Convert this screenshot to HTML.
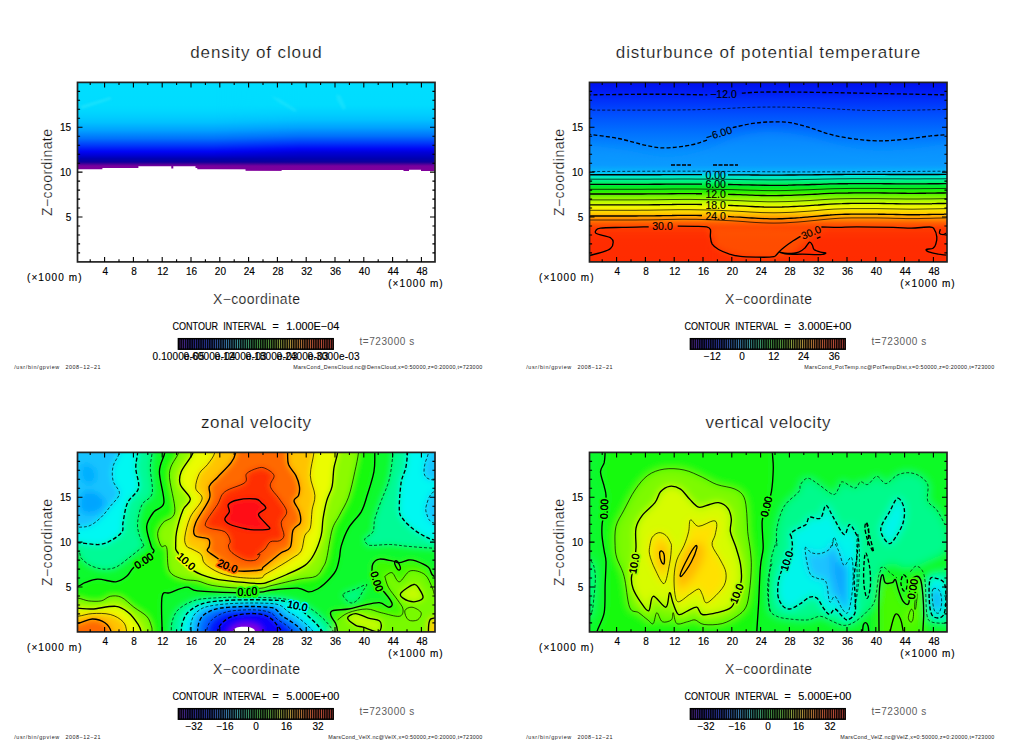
<!DOCTYPE html>
<html lang="en"><head><meta charset="utf-8"><title>gpview</title>
<style>html,body{margin:0;padding:0;background:#fff}body{width:1024px;height:740px;overflow:hidden}svg{display:block;font-family:'Liberation Sans', sans-serif}.tk{stroke:#000;stroke-width:.14px}.th{stroke:#fff;stroke-width:.2px}</style></head><body>
<svg width="1024" height="740" viewBox="0 0 1024 740">
<defs>
<linearGradient id="cbar" x1="0" x2="1" y1="0" y2="0"><stop offset="0" stop-color="#5a2a8c"/><stop offset=".08" stop-color="#2a2488"/><stop offset=".2" stop-color="#2a3ca0"/><stop offset=".3" stop-color="#3c78b4"/><stop offset=".4" stop-color="#3c9a96"/><stop offset=".5" stop-color="#3f9a4a"/><stop offset=".6" stop-color="#5a9a3c"/><stop offset=".68" stop-color="#a0a040"/><stop offset=".76" stop-color="#c08a3c"/><stop offset=".86" stop-color="#c05a38"/><stop offset="1" stop-color="#b84038"/></linearGradient>
<pattern id="cstripe" x="178.2" y="0" width="2.21" height="20" patternUnits="userSpaceOnUse"><rect x="0" y="0" width="1.45" height="20" fill="#000" fill-opacity=".9"/></pattern>
<clipPath id="pc"><rect x="77.5" y="82.4" width="357.5" height="179.5"/></clipPath>
<filter id="b1" x="-10%" y="-10%" width="120%" height="120%"><feGaussianBlur stdDeviation="1.2"/></filter>
<filter id="b2" x="-10%" y="-10%" width="120%" height="120%"><feGaussianBlur stdDeviation="3.2"/></filter>
<filter id="b4" x="-10%" y="-10%" width="120%" height="120%"><feGaussianBlur stdDeviation="4.2"/></filter>
<filter id="b3" x="-10%" y="-10%" width="120%" height="120%"><feGaussianBlur stdDeviation="4"/></filter>
</defs>
<g transform="translate(0,0)">
<g clip-path="url(#pc)">
<defs><linearGradient id="g0" gradientUnits="userSpaceOnUse" x1="0" x2="0" y1="82.4" y2="171.5"><stop offset="0.0000" stop-color="#00deff"/><stop offset="0.2536" stop-color="#00dcff"/><stop offset="0.3210" stop-color="#00d7ff"/><stop offset="0.3883" stop-color="#00cdff"/><stop offset="0.4489" stop-color="#00c1ff"/><stop offset="0.5398" stop-color="#00a0ff"/><stop offset="0.6319" stop-color="#0070fc"/><stop offset="0.7093" stop-color="#0037fa"/><stop offset="0.7744" stop-color="#0005f5"/><stop offset="0.8148" stop-color="#0000d7"/><stop offset="0.8575" stop-color="#0000af"/><stop offset="0.8934" stop-color="#0f009b"/><stop offset="0.9158" stop-color="#460098"/><stop offset="0.9383" stop-color="#78009e"/><stop offset="1.0000" stop-color="#82009b"/></linearGradient><linearGradient id="g0b" gradientUnits="userSpaceOnUse" x1="0" x2="0" y1="82.4" y2="171.5"><stop offset="0.0000" stop-color="#00deff"/><stop offset="0.2536" stop-color="#00dcff"/><stop offset="0.2929" stop-color="#00d7ff"/><stop offset="0.3603" stop-color="#00cdff"/><stop offset="0.4209" stop-color="#00c1ff"/><stop offset="0.5118" stop-color="#00a0ff"/><stop offset="0.6038" stop-color="#0070fc"/><stop offset="0.6813" stop-color="#0037fa"/><stop offset="0.7464" stop-color="#0005f5"/><stop offset="0.7868" stop-color="#0000d7"/><stop offset="0.8575" stop-color="#0000af"/><stop offset="0.8934" stop-color="#0f009b"/><stop offset="0.9158" stop-color="#460098"/><stop offset="0.9383" stop-color="#78009e"/><stop offset="1.0000" stop-color="#82009b"/></linearGradient><linearGradient id="g0m" gradientUnits="userSpaceOnUse" x1="215" x2="300" y1="0" y2="0"><stop offset="0" stop-color="#000"/><stop offset="1" stop-color="#fff"/></linearGradient><mask id="m0" maskUnits="userSpaceOnUse" x="60" y="60" width="400" height="220"><rect x="60" y="60" width="400" height="220" fill="url(#g0m)"/></mask></defs><path d="M440 70L70 70L70 169.3L102.4 169.3L102.4 168.1L138.4 168.1L138.4 166.2L171.3 166.2L171.3 168.4L173.3 168.4L173.3 166.2L195.5 166.2L195.5 168L197.3 168L197.3 169.3L245.6 169.3L245.6 170.7L281.5 170.7L281.5 169.9L403.7 169.9L403.7 171L409 171L409 169.5L421 169.5L421 171L440 171Z" fill="url(#g0)"/><path d="M440 70L70 70L70 169.3L102.4 169.3L102.4 168.1L138.4 168.1L138.4 166.2L171.3 166.2L171.3 168.4L173.3 168.4L173.3 166.2L195.5 166.2L195.5 168L197.3 168L197.3 169.3L245.6 169.3L245.6 170.7L281.5 170.7L281.5 169.9L403.7 169.9L403.7 171L409 171L409 169.5L421 169.5L421 171L440 171Z" fill="url(#g0b)" mask="url(#m0)"/><path d="M80 106 L110 97 L112 99 L82 109Z" fill="#30e6fa" opacity=".5" filter="url(#b1)"/><path d="M271 96 L280 99 L297 110 L295 112 L278 102Z" fill="#30e6fa" opacity=".4" filter="url(#b1)"/><path d="M336 94 L341 96 L346 108 L343 110 L337 100Z" fill="#30e6fa" opacity=".4" filter="url(#b1)"/>
</g>
<rect x="77.5" y="82.4" width="357.5" height="179.5" fill="none" stroke="#222" stroke-width="1.7"/>
<path d="M90.2 82.4v2.6M90.2 261.9v-2.6M104.6 82.4v5M104.6 261.9v-5M119 82.4v2.6M119 261.9v-2.6M133.4 82.4v5M133.4 261.9v-5M147.8 82.4v2.6M147.8 261.9v-2.6M162.2 82.4v5M162.2 261.9v-5M176.6 82.4v2.6M176.6 261.9v-2.6M191 82.4v5M191 261.9v-5M205.4 82.4v2.6M205.4 261.9v-2.6M219.8 82.4v5M219.8 261.9v-5M234.2 82.4v2.6M234.2 261.9v-2.6M248.6 82.4v5M248.6 261.9v-5M263 82.4v2.6M263 261.9v-2.6M277.4 82.4v5M277.4 261.9v-5M291.8 82.4v2.6M291.8 261.9v-2.6M306.2 82.4v5M306.2 261.9v-5M320.6 82.4v2.6M320.6 261.9v-2.6M335 82.4v5M335 261.9v-5M349.4 82.4v2.6M349.4 261.9v-2.6M363.8 82.4v5M363.8 261.9v-5M378.2 82.4v2.6M378.2 261.9v-2.6M392.6 82.4v5M392.6 261.9v-5M407 82.4v2.6M407 261.9v-2.6M421.4 82.4v5M421.4 261.9v-5M77.5 252.9h2.6M435 252.9h-2.6M77.5 243.9h2.6M435 243.9h-2.6M77.5 235h2.6M435 235h-2.6M77.5 226h2.6M435 226h-2.6M77.5 217h5M435 217h-5M77.5 208h2.6M435 208h-2.6M77.5 199.1h2.6M435 199.1h-2.6M77.5 190.1h2.6M435 190.1h-2.6M77.5 181.1h2.6M435 181.1h-2.6M77.5 172.1h5M435 172.1h-5M77.5 163.2h2.6M435 163.2h-2.6M77.5 154.2h2.6M435 154.2h-2.6M77.5 145.2h2.6M435 145.2h-2.6M77.5 136.2h2.6M435 136.2h-2.6M77.5 127.3h5M435 127.3h-5M77.5 118.3h2.6M435 118.3h-2.6M77.5 109.3h2.6M435 109.3h-2.6M77.5 100.3h2.6M435 100.3h-2.6M77.5 91.4h2.6M435 91.4h-2.6" stroke="#000" stroke-width="1.1" fill="none"/>
<text x="256" y="58.2" font-size="17" text-anchor="middle" textLength="131.5" fill="#111" class="th">density of cloud</text>
<text x="71.2" y="220.6" font-size="10" text-anchor="end" class="tk">5</text>
<text x="71.2" y="175.7" font-size="10" text-anchor="end" class="tk">10</text>
<text x="71.2" y="130.9" font-size="10" text-anchor="end" class="tk">15</text>
<text x="105.2" y="274.6" font-size="10" text-anchor="middle" class="tk">4</text>
<text x="134" y="274.6" font-size="10" text-anchor="middle" class="tk">8</text>
<text x="162.8" y="274.6" font-size="10" text-anchor="middle" class="tk">12</text>
<text x="191.6" y="274.6" font-size="10" text-anchor="middle" class="tk">16</text>
<text x="220.4" y="274.6" font-size="10" text-anchor="middle" class="tk">20</text>
<text x="249.2" y="274.6" font-size="10" text-anchor="middle" class="tk">24</text>
<text x="278" y="274.6" font-size="10" text-anchor="middle" class="tk">28</text>
<text x="306.8" y="274.6" font-size="10" text-anchor="middle" class="tk">32</text>
<text x="335.6" y="274.6" font-size="10" text-anchor="middle" class="tk">36</text>
<text x="364.4" y="274.6" font-size="10" text-anchor="middle" class="tk">40</text>
<text x="393.2" y="274.6" font-size="10" text-anchor="middle" class="tk">44</text>
<text x="422" y="274.6" font-size="10" text-anchor="middle" class="tk">48</text>
<text x="27" y="280.9" font-size="10" textLength="54.5" class="tk">(×1000 m)</text>
<text x="388.2" y="287.2" font-size="10" textLength="54.5" class="tk">(×1000 m)</text>
<text x="213" y="303.8" font-size="14" textLength="87" fill="#111" class="th">X−coordinate</text>
<g transform="translate(52.2,172.5) rotate(-90)">
<text x="0" y="0" font-size="14" text-anchor="middle" textLength="87" fill="#111" class="th">Z−coordinate</text>
</g>
<text x="172.5" y="330" font-size="11" textLength="45.5" class="tk" lengthAdjust="spacingAndGlyphs">CONTOUR</text>
<text x="223.3" y="330" font-size="11" textLength="43" class="tk" lengthAdjust="spacingAndGlyphs">INTERVAL</text>
<text x="272.5" y="330" font-size="11" textLength="6.2" class="tk" lengthAdjust="spacingAndGlyphs">=</text>
<text x="286.3" y="330" font-size="11" textLength="53" class="tk" lengthAdjust="spacingAndGlyphs">1.000E−04</text>
<text x="359.5" y="344.6" font-size="10" textLength="54.7" fill="#606060">t=723000 s</text>
<rect x="178.2" y="338.6" width="155" height="10.6" fill="url(#cbar)"/>
<rect x="178.2" y="338.6" width="155" height="10.6" fill="url(#cstripe)"/>
<rect x="178.4" y="338.7" width="154.8" height="10.5" fill="none" stroke="#000" stroke-width="1.5"/>
<text x="14.2" y="369" font-size="5.4" textLength="45" fill="#222">/usr/bin/gpview</text>
<text x="65.5" y="369" font-size="5.4" textLength="35" fill="#222">2008−12−21</text>
<text x="482.2" y="369" font-size="5.4" text-anchor="end" textLength="189" fill="#222">MarsCond_DensCloud.nc@DensCloud,x=0:50000,z=0:20000,t=723000</text>
<text x="152.5" y="360.2" font-size="10" textLength="52" class="tk">0.1000e-05</text>
<text x="183.5" y="360.2" font-size="10" textLength="52" class="tk">0.6000e-04</text>
<text x="214.5" y="360.2" font-size="10" textLength="52" class="tk">0.1200e-03</text>
<text x="245.5" y="360.2" font-size="10" textLength="52" class="tk">0.1800e-03</text>
<text x="276.5" y="360.2" font-size="10" textLength="52" class="tk">0.2400e-03</text>
<text x="307.5" y="360.2" font-size="10" textLength="52" class="tk">0.3000e-03</text>
</g>
<g transform="translate(512,0)">
<g clip-path="url(#pc)">
<defs><linearGradient id="g1" gradientUnits="userSpaceOnUse" x1="0" x2="0" y1="82.4" y2="261.9"><stop offset="0.0000" stop-color="#000fee"/><stop offset="0.0535" stop-color="#001ef5"/><stop offset="0.0981" stop-color="#0030fa"/><stop offset="0.1816" stop-color="#0050fe"/><stop offset="0.2652" stop-color="#006cff"/><stop offset="0.3766" stop-color="#058cff"/><stop offset="0.4602" stop-color="#089eff"/><stop offset="0.4981" stop-color="#00c8fa"/><stop offset="0.5142" stop-color="#00e6e1"/><stop offset="0.5270" stop-color="#00f5c3"/><stop offset="0.5532" stop-color="#00f078"/><stop offset="0.5816" stop-color="#00eb28"/><stop offset="0.6084" stop-color="#28f000"/><stop offset="0.6384" stop-color="#7df500"/><stop offset="0.6685" stop-color="#c3fa00"/><stop offset="0.6975" stop-color="#f5f700"/><stop offset="0.7276" stop-color="#ffcd00"/><stop offset="0.7554" stop-color="#ff9600"/><stop offset="0.7833" stop-color="#ff5f00"/><stop offset="0.8111" stop-color="#ff3c00"/><stop offset="0.8780" stop-color="#ff3000"/><stop offset="1.0006" stop-color="#ff2d00"/></linearGradient></defs><rect x="70" y="75" width="372" height="195" fill="url(#g1)"/><path d="M199.3 227.7C190 229.4 199 234.1 199.3 236.8C199.6 239.5 199.8 241.9 201.2 244.1C202.5 246.2 204.5 247.8 207.5 249.5C210.5 251.2 214.3 252.8 219.3 254.1C224.3 255.3 230.5 256.5 237.5 257.1C244.5 257.8 254.1 258.4 261.1 257.9C268.1 257.4 274.1 256.4 279.3 254.1C284.4 251.8 288 247.2 292 244.1C295.9 240.9 299.9 237.4 302.9 235C305.9 232.6 318 230.9 310.1 229.5C302.3 228.2 274.1 227.3 255.7 227C237.2 226.7 208.7 226.1 199.3 227.7Z" fill="#ff6a00" opacity=".5" filter="url(#b2)"/><rect x="70" y="232" width="130" height="40" fill="#ff2a00" opacity=".45" filter="url(#b2)"/><rect x="300" y="232" width="140" height="40" fill="#ff2a00" opacity=".35" filter="url(#b2)"/><path d="M59.1 145C67 141.3 90.6 146.7 106.3 148.6C122.1 150.6 139.6 156.3 153.5 156.6C167.5 156.9 177.8 153.9 189.9 150.5C202 147 214.7 139.1 226.2 135.9C237.7 132.7 247.4 131.2 258.9 131.2C270.4 131.2 283.1 133.5 295.2 135.9C307.3 138.4 319.4 143.3 331.5 145.7C343.6 148.2 355.7 150.1 367.9 150.5C380 150.8 390.9 149 404.2 147.9C417.5 146.9 440.5 140.4 447.8 144.3C455 148.2 512.5 166.7 447.8 171.2C383 175.6 123.9 175.5 59.1 171.2C-5.7 166.8 51.2 148.8 59.1 145Z" fill="#0896ff" opacity=".5" filter="url(#b3)"/><path d="M75.4 94.9C86.6 94.8 122.7 94.2 142.6 94.2C162.6 94.2 186.5 94.8 195.3 94.9" fill="none" stroke="#000" stroke-width="1.35" stroke-dasharray="4 2.2"/><path d="M229.8 93.1C234.7 92.9 243.1 92 258.9 92C274.6 91.9 294.9 92.2 324.3 92.7C353.6 93.2 416.6 94.5 435.1 94.9" fill="none" stroke="#000" stroke-width="1.35" stroke-dasharray="4 2.2"/><path d="M75.4 110.1C92.7 110.1 150.8 110.3 179 109.8C207.1 109.3 225 107.6 244.4 107.2C263.7 106.9 275.8 107.1 295.2 107.6C314.6 108.1 337.3 110.2 360.6 110.5C383.9 110.8 422.6 109.6 435.1 109.4" fill="none" stroke="#000" stroke-width="0.7" stroke-dasharray="3 2"/><path d="M75.4 134.1C80.6 134.8 96.3 136.5 106.3 138.5C116.3 140.4 127.5 144.2 135.4 145.7C143.3 147.3 146.3 148 153.5 147.9C160.8 147.8 172 146.3 179 145C185.9 143.7 192.6 140.8 195.3 139.9" fill="none" stroke="#000" stroke-width="1.35" stroke-dasharray="4 2.2"/><path d="M220.7 127.6C224.7 126.8 235.6 123.8 244.4 122.9C253.1 121.9 264.9 121.5 273.4 122.1C281.9 122.8 286.7 124.6 295.2 126.9C303.7 129.2 313.4 133.6 324.3 135.9C335.2 138.2 349.7 140.1 360.6 140.7C371.5 141.3 380 140.4 389.7 139.6C399.3 138.8 411.1 136.7 418.7 135.9C426.3 135.1 432.3 135 435.1 134.8" fill="none" stroke="#000" stroke-width="1.35" stroke-dasharray="4 2.2"/><path d="M75.4 171.5C92.7 171.5 143.6 171.1 179 171.2C214.4 171.2 245.3 171.9 287.9 171.9C330.6 171.9 410.5 171.3 435.1 171.2" fill="none" stroke="#000" stroke-width="0.7" stroke-dasharray="3 2"/><path d="M159 165h20M201 165h25" fill="none" stroke="#000" stroke-width="1.6" stroke-dasharray="4 1.5"/><path d="M70 174.7C71 174.7 74 174.7 76 174.7C78 174.7 80 174.7 82 174.7C84 174.7 86 174.7 88 174.7C90 174.7 92 174.7 94 174.7C96 174.7 98 174.7 100 174.7C102 174.7 104 174.7 106 174.7C108 174.7 110 174.7 112 174.7C114 174.7 116 174.7 118 174.7C120 174.7 122 174.7 124 174.7C126 174.7 128 174.7 130 174.7C132 174.7 134 174.7 136 174.7C138 174.7 140 174.7 142 174.7C144 174.7 146 174.7 148 174.7C150 174.7 152 174.6 154 174.6C156 174.6 158 174.6 160 174.6C162 174.6 164 174.6 166 174.6C168 174.6 170 174.6 172 174.6C174 174.6 176 174.6 178 174.6C180 174.6 182 174.6 184 174.6C186 174.6 189 174.6 190 174.6" fill="none" stroke="#000" stroke-width="1.35"/><path d="M216 174.8C217 174.8 220 174.8 222 174.8C224 174.8 226 174.9 228 174.9C230 174.9 232 174.9 234 174.9C236 174.9 238 175 240 175C242 175 244 175 246 175C248 175 250 175.1 252 175.1C254 175.1 256 175.1 258 175.1C260 175.1 262 175.1 264 175.1C266 175.1 268 175.1 270 175.1C272 175.1 274 175.1 276 175C278 175 280 175 282 175C284 175 286 175 288 174.9C290 174.9 292 174.9 294 174.9C296 174.8 298 174.8 300 174.8C302 174.8 304 174.7 306 174.7C308 174.7 310 174.7 312 174.6C314 174.6 316 174.6 318 174.6C320 174.5 322 174.5 324 174.5C326 174.5 328 174.5 330 174.5C332 174.5 334 174.4 336 174.4C338 174.4 340 174.4 342 174.4C344 174.4 346 174.4 348 174.4C350 174.4 352 174.4 354 174.4C356 174.4 358 174.4 360 174.4C362 174.4 364 174.4 366 174.4C368 174.4 370 174.4 372 174.4C374 174.5 376 174.5 378 174.5C380 174.5 382 174.5 384 174.5C386 174.5 388 174.5 390 174.5C392 174.5 394 174.5 396 174.5C398 174.5 400 174.5 402 174.5C404 174.5 406 174.5 408 174.5C410 174.5 412 174.5 414 174.5C416 174.5 418 174.5 420 174.5C422 174.5 424 174.5 426 174.5C428 174.4 430 174.4 432 174.4C434 174.4 437 174.4 438 174.4" fill="none" stroke="#000" stroke-width="1.35"/><path d="M70 179.2C71 179.2 74 179.2 76 179.2C78 179.2 80 179.2 82 179.2C84 179.2 86 179.2 88 179.2C90 179.2 92 179.2 94 179.2C96 179.2 98 179.2 100 179.2C102 179.2 104 179.2 106 179.2C108 179.2 110 179.2 112 179.2C114 179.2 116 179.2 118 179.2C120 179.2 122 179.2 124 179.2C126 179.2 128 179.2 130 179.2C132 179.2 134 179.2 136 179.2C138 179.2 140 179.2 142 179.1C144 179.1 146 179.1 148 179.1C150 179.1 152 179.1 154 179.1C156 179.1 158 179.1 160 179.1C162 179.1 164 179 166 179C168 179 170 179 172 179C174 179 176 179 178 179C180 179 182 179 184 179.1C186 179.1 188 179.1 190 179.1C192 179.1 194 179.1 196 179.1C198 179.1 200 179.2 202 179.2C204 179.2 206 179.2 208 179.2C210 179.3 212 179.3 214 179.3C216 179.3 218 179.4 220 179.4C222 179.4 224 179.4 226 179.5C228 179.5 230 179.5 232 179.6C234 179.6 236 179.6 238 179.7C240 179.7 242 179.7 244 179.8C246 179.8 248 179.8 250 179.8C252 179.9 254 179.9 256 179.9C258 179.9 260 179.9 262 179.9C264 179.9 266 179.9 268 179.9C270 179.9 272 179.9 274 179.8C276 179.8 278 179.8 280 179.8C282 179.7 284 179.7 286 179.7C288 179.6 290 179.6 292 179.5C294 179.5 296 179.5 298 179.4C300 179.4 302 179.3 304 179.3C306 179.2 308 179.2 310 179.1C312 179.1 314 179 316 179C318 178.9 320 178.9 322 178.9C324 178.8 326 178.8 328 178.8C330 178.8 332 178.8 334 178.8C336 178.7 338 178.7 340 178.7C342 178.7 344 178.7 346 178.7C348 178.7 350 178.7 352 178.7C354 178.7 356 178.7 358 178.7C360 178.7 362 178.7 364 178.7C366 178.7 368 178.7 370 178.8C372 178.8 374 178.8 376 178.8C378 178.8 380 178.8 382 178.8C384 178.8 386 178.8 388 178.8C390 178.9 392 178.9 394 178.9C396 178.9 398 178.9 400 178.9C402 178.9 404 178.9 406 178.9C408 178.9 410 178.9 412 178.8C414 178.8 416 178.8 418 178.8C420 178.8 422 178.8 424 178.8C426 178.8 428 178.8 430 178.8C432 178.7 434 178.7 436 178.7C438 178.7 441 178.7 442 178.7" fill="none" stroke="#000" stroke-width="0.7"/><path d="M70 184.3C71 184.3 74 184.3 76 184.3C78 184.3 80 184.3 82 184.3C84 184.3 86 184.3 88 184.3C90 184.3 92 184.3 94 184.3C96 184.3 98 184.3 100 184.3C102 184.3 104 184.3 106 184.3C108 184.3 110 184.3 112 184.3C114 184.3 116 184.3 118 184.3C120 184.3 122 184.3 124 184.3C126 184.3 128 184.3 130 184.3C132 184.3 134 184.3 136 184.3C138 184.2 140 184.2 142 184.2C144 184.2 146 184.2 148 184.2C150 184.2 152 184.2 154 184.1C156 184.1 158 184.1 160 184.1C162 184.1 164 184.1 166 184.1C168 184.1 170 184.1 172 184.1C174 184.1 176 184.1 178 184.1C180 184.1 182 184.1 184 184.1C186 184.1 189 184.1 190 184.1" fill="none" stroke="#000" stroke-width="1.35"/><path d="M216 184.5C217 184.5 220 184.6 222 184.6C224 184.6 226 184.7 228 184.7C230 184.8 232 184.8 234 184.9C236 184.9 238 185 240 185C242 185.1 244 185.1 246 185.1C248 185.2 250 185.2 252 185.2C254 185.3 256 185.3 258 185.3C260 185.3 262 185.3 264 185.3C266 185.3 268 185.3 270 185.3C272 185.2 274 185.2 276 185.2C278 185.1 280 185.1 282 185C284 185 286 184.9 288 184.9C290 184.8 292 184.8 294 184.7C296 184.7 298 184.6 300 184.5C302 184.5 304 184.4 306 184.3C308 184.3 310 184.2 312 184.1C314 184.1 316 184 318 183.9C320 183.9 322 183.8 324 183.8C326 183.8 328 183.7 330 183.7C332 183.7 334 183.7 336 183.7C338 183.6 340 183.6 342 183.6C344 183.6 346 183.6 348 183.6C350 183.6 352 183.6 354 183.6C356 183.6 358 183.6 360 183.6C362 183.6 364 183.6 366 183.6C368 183.6 370 183.7 372 183.7C374 183.7 376 183.7 378 183.7C380 183.7 382 183.7 384 183.8C386 183.8 388 183.8 390 183.8C392 183.8 394 183.8 396 183.8C398 183.8 400 183.9 402 183.8C404 183.8 406 183.8 408 183.8C410 183.8 412 183.8 414 183.8C416 183.8 418 183.7 420 183.7C422 183.7 424 183.7 426 183.7C428 183.7 430 183.7 432 183.6C434 183.6 437 183.6 438 183.6" fill="none" stroke="#000" stroke-width="1.35"/><path d="M70 189.3C71 189.3 74 189.3 76 189.3C78 189.3 80 189.3 82 189.3C84 189.3 86 189.3 88 189.3C90 189.3 92 189.3 94 189.3C96 189.3 98 189.3 100 189.3C102 189.3 104 189.3 106 189.3C108 189.3 110 189.3 112 189.3C114 189.3 116 189.3 118 189.3C120 189.3 122 189.3 124 189.3C126 189.3 128 189.3 130 189.3C132 189.3 134 189.3 136 189.2C138 189.2 140 189.2 142 189.2C144 189.2 146 189.2 148 189.2C150 189.1 152 189.1 154 189.1C156 189.1 158 189.1 160 189C162 189 164 189 166 189C168 189 170 189 172 189C174 189 176 189 178 189C180 189 182 189 184 189C186 189 188 189.1 190 189.1C192 189.1 194 189.1 196 189.2C198 189.2 200 189.2 202 189.3C204 189.3 206 189.3 208 189.4C210 189.4 212 189.5 214 189.5C216 189.5 218 189.6 220 189.6C222 189.7 224 189.8 226 189.8C228 189.9 230 189.9 232 190C234 190 236 190.1 238 190.2C240 190.2 242 190.3 244 190.3C246 190.4 248 190.4 250 190.5C252 190.5 254 190.5 256 190.6C258 190.6 260 190.6 262 190.6C264 190.6 266 190.6 268 190.6C270 190.5 272 190.5 274 190.5C276 190.4 278 190.4 280 190.3C282 190.3 284 190.2 286 190.1C288 190.1 290 190 292 189.9C294 189.9 296 189.8 298 189.7C300 189.6 302 189.5 304 189.4C306 189.4 308 189.3 310 189.2C312 189.1 314 189 316 188.9C318 188.8 320 188.8 322 188.7C324 188.6 326 188.6 328 188.6C330 188.5 332 188.5 334 188.5C336 188.5 338 188.4 340 188.4C342 188.4 344 188.4 346 188.4C348 188.4 350 188.4 352 188.4C354 188.4 356 188.4 358 188.4C360 188.4 362 188.4 364 188.4C366 188.4 368 188.5 370 188.5C372 188.5 374 188.5 376 188.5C378 188.5 380 188.6 382 188.6C384 188.6 386 188.6 388 188.6C390 188.7 392 188.7 394 188.7C396 188.7 398 188.7 400 188.7C402 188.7 404 188.7 406 188.7C408 188.7 410 188.7 412 188.6C414 188.6 416 188.6 418 188.6C420 188.6 422 188.5 424 188.5C426 188.5 428 188.5 430 188.5C432 188.5 434 188.4 436 188.4C438 188.4 441 188.4 442 188.4" fill="none" stroke="#000" stroke-width="0.7"/><path d="M70 194C71 194 74 194 76 194C78 194 80 194 82 194C84 194 86 194 88 194C90 194 92 194 94 194C96 194 98 194 100 194C102 194 104 194 106 194C108 194 110 194 112 194C114 194 116 194 118 194C120 194 122 194 124 194C126 194 128 194 130 194C132 193.9 134 193.9 136 193.9C138 193.9 140 193.9 142 193.9C144 193.9 146 193.8 148 193.8C150 193.8 152 193.8 154 193.8C156 193.7 158 193.7 160 193.7C162 193.7 164 193.7 166 193.6C168 193.6 170 193.6 172 193.6C174 193.6 176 193.6 178 193.6C180 193.6 182 193.6 184 193.7C186 193.7 189 193.7 190 193.7" fill="none" stroke="#000" stroke-width="1.35"/><path d="M216 194.3C217 194.3 220 194.4 222 194.5C224 194.6 226 194.6 228 194.7C230 194.8 232 194.8 234 194.9C236 195 238 195.1 240 195.1C242 195.2 244 195.3 246 195.3C248 195.4 250 195.5 252 195.5C254 195.5 256 195.6 258 195.6C260 195.6 262 195.6 264 195.6C266 195.6 268 195.6 270 195.5C272 195.5 274 195.4 276 195.4C278 195.3 280 195.3 282 195.2C284 195.1 286 195 288 194.9C290 194.9 292 194.8 294 194.7C296 194.6 298 194.5 300 194.4C302 194.3 304 194.2 306 194.1C308 193.9 310 193.8 312 193.7C314 193.6 316 193.5 318 193.4C320 193.3 322 193.3 324 193.2C326 193.1 328 193.1 330 193.1C332 193 334 193 336 193C338 192.9 340 192.9 342 192.9C344 192.9 346 192.9 348 192.9C350 192.9 352 192.9 354 192.9C356 192.9 358 192.9 360 192.9C362 192.9 364 192.9 366 192.9C368 193 370 193 372 193C374 193 376 193 378 193.1C380 193.1 382 193.1 384 193.1C386 193.2 388 193.2 390 193.2C392 193.2 394 193.3 396 193.3C398 193.3 400 193.3 402 193.3C404 193.3 406 193.3 408 193.2C410 193.2 412 193.2 414 193.2C416 193.1 418 193.1 420 193.1C422 193.1 424 193 426 193C428 193 430 193 432 193C434 192.9 437 192.9 438 192.9" fill="none" stroke="#000" stroke-width="1.35"/><path d="M70 199.9C71 199.9 74 199.9 76 199.9C78 199.9 80 199.9 82 199.9C84 199.9 86 199.9 88 199.9C90 199.9 92 199.9 94 199.9C96 199.9 98 199.9 100 199.9C102 199.9 104 199.9 106 199.9C108 199.9 110 199.9 112 199.9C114 199.9 116 199.9 118 199.9C120 199.9 122 199.9 124 199.9C126 199.9 128 199.9 130 199.8C132 199.8 134 199.8 136 199.8C138 199.8 140 199.8 142 199.8C144 199.7 146 199.7 148 199.7C150 199.7 152 199.6 154 199.6C156 199.6 158 199.6 160 199.5C162 199.5 164 199.5 166 199.5C168 199.5 170 199.4 172 199.4C174 199.4 176 199.4 178 199.4C180 199.5 182 199.5 184 199.5C186 199.5 188 199.5 190 199.6C192 199.6 194 199.7 196 199.7C198 199.7 200 199.8 202 199.8C204 199.9 206 200 208 200C210 200.1 212 200.1 214 200.2C216 200.3 218 200.3 220 200.4C222 200.5 224 200.6 226 200.6C228 200.7 230 200.8 232 200.9C234 201 236 201.1 238 201.2C240 201.3 242 201.3 244 201.4C246 201.5 248 201.6 250 201.6C252 201.7 254 201.7 256 201.8C258 201.8 260 201.8 262 201.8C264 201.8 266 201.8 268 201.7C270 201.7 272 201.7 274 201.6C276 201.5 278 201.5 280 201.4C282 201.3 284 201.2 286 201.1C288 201 290 200.9 292 200.8C294 200.7 296 200.6 298 200.5C300 200.4 302 200.2 304 200.1C306 200 308 199.8 310 199.7C312 199.6 314 199.4 316 199.3C318 199.2 320 199.1 322 199C324 198.9 326 198.9 328 198.8C330 198.8 332 198.7 334 198.7C336 198.7 338 198.7 340 198.6C342 198.6 344 198.6 346 198.6C348 198.6 350 198.6 352 198.6C354 198.6 356 198.6 358 198.6C360 198.6 362 198.6 364 198.6C366 198.6 368 198.7 370 198.7C372 198.7 374 198.7 376 198.8C378 198.8 380 198.8 382 198.9C384 198.9 386 198.9 388 198.9C390 199 392 199 394 199C396 199 398 199 400 199C402 199 404 199 406 199C408 199 410 199 412 198.9C414 198.9 416 198.9 418 198.9C420 198.8 422 198.8 424 198.8C426 198.7 428 198.7 430 198.7C432 198.7 434 198.6 436 198.6C438 198.6 441 198.6 442 198.6" fill="none" stroke="#000" stroke-width="0.7"/><path d="M70 204.9C71 204.9 74 204.9 76 204.9C78 204.9 80 204.9 82 204.9C84 204.9 86 204.9 88 204.9C90 204.9 92 204.9 94 204.9C96 204.9 98 204.9 100 204.9C102 204.9 104 204.9 106 204.9C108 204.9 110 204.9 112 204.9C114 204.9 116 204.9 118 204.9C120 204.9 122 204.9 124 204.9C126 204.9 128 204.9 130 204.8C132 204.8 134 204.8 136 204.8C138 204.8 140 204.8 142 204.7C144 204.7 146 204.7 148 204.7C150 204.6 152 204.6 154 204.6C156 204.5 158 204.5 160 204.5C162 204.4 164 204.4 166 204.4C168 204.4 170 204.4 172 204.4C174 204.4 176 204.4 178 204.4C180 204.4 182 204.4 184 204.4C186 204.5 189 204.5 190 204.5" fill="none" stroke="#000" stroke-width="1.35"/><path d="M216 205.3C217 205.4 220 205.5 222 205.6C224 205.7 226 205.8 228 205.9C230 206 232 206.1 234 206.2C236 206.3 238 206.4 240 206.5C242 206.6 244 206.7 246 206.7C248 206.8 250 206.9 252 207C254 207 256 207.1 258 207.1C260 207.1 262 207.1 264 207.1C266 207.1 268 207 270 207C272 206.9 274 206.9 276 206.8C278 206.7 280 206.6 282 206.5C284 206.4 286 206.3 288 206.2C290 206.1 292 206 294 205.8C296 205.7 298 205.6 300 205.4C302 205.3 304 205.1 306 205C308 204.8 310 204.7 312 204.5C314 204.4 316 204.2 318 204.1C320 204 322 203.9 324 203.8C326 203.7 328 203.6 330 203.6C332 203.5 334 203.5 336 203.5C338 203.5 340 203.4 342 203.4C344 203.4 346 203.4 348 203.4C350 203.4 352 203.4 354 203.4C356 203.4 358 203.4 360 203.4C362 203.4 364 203.4 366 203.4C368 203.5 370 203.5 372 203.5C374 203.5 376 203.6 378 203.6C380 203.6 382 203.7 384 203.7C386 203.8 388 203.8 390 203.8C392 203.9 394 203.9 396 203.9C398 203.9 400 203.9 402 203.9C404 203.9 406 203.9 408 203.9C410 203.8 412 203.8 414 203.8C416 203.7 418 203.7 420 203.7C422 203.6 424 203.6 426 203.5C428 203.5 430 203.5 432 203.5C434 203.4 437 203.4 438 203.4" fill="none" stroke="#000" stroke-width="1.35"/><path d="M70 210.3C71 210.3 74 210.3 76 210.3C78 210.3 80 210.3 82 210.3C84 210.3 86 210.3 88 210.3C90 210.3 92 210.3 94 210.3C96 210.3 98 210.3 100 210.3C102 210.3 104 210.3 106 210.3C108 210.3 110 210.3 112 210.3C114 210.3 116 210.3 118 210.3C120 210.3 122 210.3 124 210.3C126 210.3 128 210.2 130 210.2C132 210.2 134 210.2 136 210.2C138 210.2 140 210.1 142 210.1C144 210.1 146 210.1 148 210C150 210 152 210 154 209.9C156 209.9 158 209.8 160 209.8C162 209.8 164 209.8 166 209.7C168 209.7 170 209.7 172 209.7C174 209.7 176 209.7 178 209.7C180 209.7 182 209.7 184 209.8C186 209.8 188 209.8 190 209.9C192 209.9 194 210 196 210C198 210.1 200 210.2 202 210.2C204 210.3 206 210.4 208 210.4C210 210.5 212 210.6 214 210.7C216 210.8 218 210.9 220 211C222 211.1 224 211.2 226 211.3C228 211.4 230 211.5 232 211.6C234 211.7 236 211.9 238 212C240 212.1 242 212.2 244 212.3C246 212.4 248 212.5 250 212.6C252 212.6 254 212.7 256 212.7C258 212.8 260 212.8 262 212.8C264 212.8 266 212.8 268 212.7C270 212.7 272 212.6 274 212.5C276 212.5 278 212.4 280 212.3C282 212.2 284 212 286 211.9C288 211.8 290 211.6 292 211.5C294 211.4 296 211.2 298 211.1C300 210.9 302 210.7 304 210.6C306 210.4 308 210.2 310 210C312 209.9 314 209.7 316 209.5C318 209.4 320 209.3 322 209.1C324 209 326 209 328 208.9C330 208.8 332 208.8 334 208.7C336 208.7 338 208.7 340 208.6C342 208.6 344 208.6 346 208.6C348 208.6 350 208.6 352 208.6C354 208.6 356 208.6 358 208.6C360 208.6 362 208.6 364 208.6C366 208.7 368 208.7 370 208.7C372 208.7 374 208.8 376 208.8C378 208.8 380 208.9 382 208.9C384 209 386 209 388 209C390 209.1 392 209.1 394 209.1C396 209.2 398 209.2 400 209.2C402 209.2 404 209.2 406 209.1C408 209.1 410 209.1 412 209C414 209 416 209 418 208.9C420 208.9 422 208.8 424 208.8C426 208.8 428 208.7 430 208.7C432 208.7 434 208.6 436 208.6C438 208.6 441 208.6 442 208.6" fill="none" stroke="#000" stroke-width="0.7"/><path d="M70 216C71 216 74 216 76 216C78 216 80 216 82 216C84 216 86 216 88 216C90 216 92 216 94 216C96 216 98 216 100 216C102 216 104 216 106 216C108 216 110 216 112 216C114 216 116 216 118 216C120 216 122 216 124 216C126 216 128 215.9 130 215.9C132 215.9 134 215.9 136 215.9C138 215.8 140 215.8 142 215.8C144 215.8 146 215.7 148 215.7C150 215.7 152 215.6 154 215.6C156 215.5 158 215.5 160 215.5C162 215.4 164 215.4 166 215.4C168 215.3 170 215.3 172 215.3C174 215.3 176 215.3 178 215.3C180 215.3 182 215.4 184 215.4C186 215.4 189 215.5 190 215.5" fill="none" stroke="#000" stroke-width="1.35"/><path d="M216 216.5C217 216.6 220 216.7 222 216.9C224 217 226 217.1 228 217.2C230 217.4 232 217.5 234 217.6C236 217.7 238 217.9 240 218C242 218.1 244 218.2 246 218.3C248 218.4 250 218.5 252 218.6C254 218.7 256 218.7 258 218.8C260 218.8 262 218.8 264 218.8C266 218.8 268 218.7 270 218.7C272 218.6 274 218.5 276 218.4C278 218.3 280 218.2 282 218.1C284 218 286 217.8 288 217.7C290 217.5 292 217.4 294 217.2C296 217 298 216.9 300 216.7C302 216.5 304 216.3 306 216.1C308 215.9 310 215.7 312 215.5C314 215.3 316 215.1 318 215C320 214.8 322 214.7 324 214.6C326 214.5 328 214.4 330 214.3C332 214.3 334 214.2 336 214.2C338 214.2 340 214.1 342 214.1C344 214.1 346 214.1 348 214.1C350 214.1 352 214.1 354 214.1C356 214.1 358 214.1 360 214.1C362 214.1 364 214.1 366 214.2C368 214.2 370 214.2 372 214.2C374 214.3 376 214.3 378 214.4C380 214.4 382 214.5 384 214.5C386 214.6 388 214.6 390 214.6C392 214.7 394 214.7 396 214.7C398 214.7 400 214.7 402 214.7C404 214.7 406 214.7 408 214.7C410 214.6 412 214.6 414 214.6C416 214.5 418 214.5 420 214.4C422 214.4 424 214.3 426 214.3C428 214.2 430 214.2 432 214.2C434 214.1 437 214.1 438 214.1" fill="none" stroke="#000" stroke-width="1.35"/><path d="M70 220C71 220 74 220 76 220C78 220 80 220 82 220C84 220 86 220 88 220C90 220 92 220 94 220C96 220 98 220 100 220C102 220 104 220 106 220C108 220 110 220 112 220C114 220 116 220 118 220C120 220 122 220 124 220C126 219.9 128 219.9 130 219.9C132 219.9 134 219.9 136 219.9C138 219.8 140 219.8 142 219.8C144 219.7 146 219.7 148 219.7C150 219.6 152 219.6 154 219.5C156 219.5 158 219.4 160 219.4C162 219.4 164 219.3 166 219.3C168 219.3 170 219.3 172 219.2C174 219.2 176 219.2 178 219.3C180 219.3 182 219.3 184 219.3C186 219.4 188 219.4 190 219.5C192 219.5 194 219.6 196 219.7C198 219.7 200 219.8 202 219.9C204 220 206 220.1 208 220.2C210 220.3 212 220.4 214 220.5C216 220.6 218 220.7 220 220.8C222 221 224 221.1 226 221.2C228 221.4 230 221.5 232 221.6C234 221.8 236 221.9 238 222.1C240 222.2 242 222.4 244 222.5C246 222.6 248 222.7 250 222.8C252 222.9 254 223 256 223C258 223.1 260 223.1 262 223.1C264 223.1 266 223.1 268 223C270 223 272 222.9 274 222.8C276 222.7 278 222.6 280 222.4C282 222.3 284 222.2 286 222C288 221.8 290 221.7 292 221.5C294 221.3 296 221.1 298 220.9C300 220.7 302 220.5 304 220.3C306 220.1 308 219.9 310 219.7C312 219.5 314 219.2 316 219.1C318 218.9 320 218.7 322 218.6C324 218.4 326 218.3 328 218.2C330 218.2 332 218.1 334 218C336 218 338 218 340 217.9C342 217.9 344 217.9 346 217.9C348 217.9 350 217.9 352 217.9C354 217.9 356 217.9 358 217.9C360 217.9 362 217.9 364 217.9C366 218 368 218 370 218C372 218.1 374 218.1 376 218.1C378 218.2 380 218.2 382 218.3C384 218.3 386 218.4 388 218.4C390 218.5 392 218.5 394 218.6C396 218.6 398 218.6 400 218.6C402 218.6 404 218.6 406 218.6C408 218.5 410 218.5 412 218.4C414 218.4 416 218.3 418 218.3C420 218.2 422 218.2 424 218.1C426 218.1 428 218 430 218C432 218 434 218 436 217.9C438 217.9 441 217.9 442 217.9" fill="none" stroke="#000" stroke-width="0.7"/><path d="M136.7 226.8C132.3 226.9 118.4 227.1 110.3 227.4C102.3 227.6 92.9 227.6 88.5 228.1C84.1 228.6 84.7 229.6 84 230.4C83.2 231.3 82.9 232.3 84 233.2C85.1 234 87.9 234.6 90.3 235.3C92.8 236.1 96.7 236.6 98.5 237.7C100.3 238.9 101.2 240.4 101.2 242.2C101.2 244.1 100.3 246.9 98.5 248.6C96.7 250.3 94 251.1 90.3 252.2C86.7 253.4 79 255.1 76.7 255.7" fill="none" stroke="#000" stroke-width="1.35"/><path d="M165.7 226.1C168.6 226.1 178.1 226.1 183 226.3C187.8 226.4 192.2 226.3 194.8 226.8C197.4 227.4 197.8 227.9 198.4 229.5C199 231.2 198.1 234.4 198.4 236.8C198.7 239.2 198.9 241.9 200.2 244.1C201.6 246.2 203.7 247.8 206.6 249.5C209.5 251.2 213.9 252.9 217.5 254.1C221.1 255.2 223.9 255.9 228.4 256.4C232.9 256.9 239.9 257 244.8 257.1C249.6 257.3 254.4 257.3 257.5 257.1C260.5 257 262 256.5 262.9 256.4" fill="none" stroke="#000" stroke-width="1.35"/><path d="M263.1 256.4C263.7 255.7 265.2 253.8 266.7 252.2C268.2 250.7 269.7 249.2 272.2 247.3C274.6 245.4 278.5 242.6 281.2 240.8C284 239 287.3 237.2 288.5 236.4" fill="none" stroke="#000" stroke-width="1.35"/><path d="M309.4 227C312.3 227 320.8 227.4 326.7 227.4C332.6 227.3 335.7 226.8 344.8 226.8C353.9 226.8 372.1 227.1 381.2 227.4C390.2 227.6 393.3 228.1 399.3 228.1C405.4 228 413.7 226.9 417.5 227C421.3 227.1 420.8 227.2 422 228.8C423.2 230.4 424.5 234.3 424.8 236.8C425.1 239.3 424.5 242.2 423.8 244.1C423.2 246 422.7 247.3 421.1 248.2C419.5 249.2 414.8 248.8 414.2 249.5C413.6 250.2 415.4 251.5 417.5 252.2C419.5 253 423.7 253.6 426.6 254.1C429.4 254.5 433.4 255 434.7 255.1" fill="none" stroke="#000" stroke-width="1.35"/><path d="M267.6 252.2C267.6 252.1 272.6 253.5 275.8 253.5C279 253.5 283.8 253.2 286.7 252.2C289.6 251.3 291.2 249.4 293.1 247.7C294.9 246 296.4 242.7 297.6 242.2C298.8 241.8 299.6 243.8 300.3 245C301.1 246.2 300.8 248.3 302.1 249.5C303.5 250.7 306.5 251.6 308.5 252.2C310.5 252.8 313.9 252.8 313.9 253.1C313.9 253.5 312.4 254.4 308.5 254.6C304.6 254.8 295.8 254.3 290.3 254.2C284.9 254.2 279.6 254.6 275.8 254.2C272 253.9 267.6 252.4 267.6 252.2Z" fill="none" stroke="#000" stroke-width="1.35"/><path d="M304.9 238.3L308.5 236.8" fill="none" stroke="#000" stroke-width="1.35"/><path d="M428.4 229.2C428.2 229.8 427 232.3 427.5 233.2C427.9 234.1 430 234.6 431.1 234.6C432.2 234.6 433.7 233.4 434.2 233.2" fill="none" stroke="#000" stroke-width="1.35"/><text x="203.6" y="178.6" font-size="10.5" text-anchor="middle" style="stroke:#000;stroke-width:.15px">0.00</text><text x="203.6" y="188.3" font-size="10.5" text-anchor="middle" style="stroke:#000;stroke-width:.15px">6.00</text><text x="203.6" y="198.1" font-size="10.5" text-anchor="middle" style="stroke:#000;stroke-width:.15px">12.0</text><text x="203.6" y="208.9" font-size="10.5" text-anchor="middle" style="stroke:#000;stroke-width:.15px">18.0</text><text x="203.6" y="220.3" font-size="10.5" text-anchor="middle" style="stroke:#000;stroke-width:.15px">24.0</text><text x="211.5" y="97.9" font-size="10.5" text-anchor="middle" style="stroke:#000;stroke-width:.15px">−12.0</text><text x="207" y="137.2" font-size="10.5" text-anchor="middle" transform="rotate(-17 207 133.5)" style="stroke:#000;stroke-width:.15px">−6.00</text><text x="150.5" y="230.1" font-size="10.5" text-anchor="middle" style="stroke:#000;stroke-width:.15px">30.0</text><text x="299" y="236.2" font-size="10.5" text-anchor="middle" transform="rotate(-22 299 232.5)" style="stroke:#000;stroke-width:.15px">30.0</text>
</g>
<rect x="77.5" y="82.4" width="357.5" height="179.5" fill="none" stroke="#222" stroke-width="1.7"/>
<path d="M90.2 82.4v2.6M90.2 261.9v-2.6M104.6 82.4v5M104.6 261.9v-5M119 82.4v2.6M119 261.9v-2.6M133.4 82.4v5M133.4 261.9v-5M147.8 82.4v2.6M147.8 261.9v-2.6M162.2 82.4v5M162.2 261.9v-5M176.6 82.4v2.6M176.6 261.9v-2.6M191 82.4v5M191 261.9v-5M205.4 82.4v2.6M205.4 261.9v-2.6M219.8 82.4v5M219.8 261.9v-5M234.2 82.4v2.6M234.2 261.9v-2.6M248.6 82.4v5M248.6 261.9v-5M263 82.4v2.6M263 261.9v-2.6M277.4 82.4v5M277.4 261.9v-5M291.8 82.4v2.6M291.8 261.9v-2.6M306.2 82.4v5M306.2 261.9v-5M320.6 82.4v2.6M320.6 261.9v-2.6M335 82.4v5M335 261.9v-5M349.4 82.4v2.6M349.4 261.9v-2.6M363.8 82.4v5M363.8 261.9v-5M378.2 82.4v2.6M378.2 261.9v-2.6M392.6 82.4v5M392.6 261.9v-5M407 82.4v2.6M407 261.9v-2.6M421.4 82.4v5M421.4 261.9v-5M77.5 252.9h2.6M435 252.9h-2.6M77.5 243.9h2.6M435 243.9h-2.6M77.5 235h2.6M435 235h-2.6M77.5 226h2.6M435 226h-2.6M77.5 217h5M435 217h-5M77.5 208h2.6M435 208h-2.6M77.5 199.1h2.6M435 199.1h-2.6M77.5 190.1h2.6M435 190.1h-2.6M77.5 181.1h2.6M435 181.1h-2.6M77.5 172.1h5M435 172.1h-5M77.5 163.2h2.6M435 163.2h-2.6M77.5 154.2h2.6M435 154.2h-2.6M77.5 145.2h2.6M435 145.2h-2.6M77.5 136.2h2.6M435 136.2h-2.6M77.5 127.3h5M435 127.3h-5M77.5 118.3h2.6M435 118.3h-2.6M77.5 109.3h2.6M435 109.3h-2.6M77.5 100.3h2.6M435 100.3h-2.6M77.5 91.4h2.6M435 91.4h-2.6" stroke="#000" stroke-width="1.1" fill="none"/>
<text x="256" y="58.2" font-size="17" text-anchor="middle" textLength="304.4" fill="#111" class="th">disturbunce of potential temperature</text>
<text x="71.2" y="220.6" font-size="10" text-anchor="end" class="tk">5</text>
<text x="71.2" y="175.7" font-size="10" text-anchor="end" class="tk">10</text>
<text x="71.2" y="130.9" font-size="10" text-anchor="end" class="tk">15</text>
<text x="105.2" y="274.6" font-size="10" text-anchor="middle" class="tk">4</text>
<text x="134" y="274.6" font-size="10" text-anchor="middle" class="tk">8</text>
<text x="162.8" y="274.6" font-size="10" text-anchor="middle" class="tk">12</text>
<text x="191.6" y="274.6" font-size="10" text-anchor="middle" class="tk">16</text>
<text x="220.4" y="274.6" font-size="10" text-anchor="middle" class="tk">20</text>
<text x="249.2" y="274.6" font-size="10" text-anchor="middle" class="tk">24</text>
<text x="278" y="274.6" font-size="10" text-anchor="middle" class="tk">28</text>
<text x="306.8" y="274.6" font-size="10" text-anchor="middle" class="tk">32</text>
<text x="335.6" y="274.6" font-size="10" text-anchor="middle" class="tk">36</text>
<text x="364.4" y="274.6" font-size="10" text-anchor="middle" class="tk">40</text>
<text x="393.2" y="274.6" font-size="10" text-anchor="middle" class="tk">44</text>
<text x="422" y="274.6" font-size="10" text-anchor="middle" class="tk">48</text>
<text x="27" y="280.9" font-size="10" textLength="54.5" class="tk">(×1000 m)</text>
<text x="388.2" y="287.2" font-size="10" textLength="54.5" class="tk">(×1000 m)</text>
<text x="213" y="303.8" font-size="14" textLength="87" fill="#111" class="th">X−coordinate</text>
<g transform="translate(52.2,172.5) rotate(-90)">
<text x="0" y="0" font-size="14" text-anchor="middle" textLength="87" fill="#111" class="th">Z−coordinate</text>
</g>
<text x="172.5" y="330" font-size="11" textLength="45.5" class="tk" lengthAdjust="spacingAndGlyphs">CONTOUR</text>
<text x="223.3" y="330" font-size="11" textLength="43" class="tk" lengthAdjust="spacingAndGlyphs">INTERVAL</text>
<text x="272.5" y="330" font-size="11" textLength="6.2" class="tk" lengthAdjust="spacingAndGlyphs">=</text>
<text x="286.3" y="330" font-size="11" textLength="53" class="tk" lengthAdjust="spacingAndGlyphs">3.000E+00</text>
<text x="359.5" y="344.6" font-size="10" textLength="54.7" fill="#606060">t=723000 s</text>
<rect x="178.2" y="338.6" width="155" height="10.6" fill="url(#cbar)"/>
<rect x="178.2" y="338.6" width="155" height="10.6" fill="url(#cstripe)"/>
<rect x="178.4" y="338.7" width="154.8" height="10.5" fill="none" stroke="#000" stroke-width="1.5"/>
<text x="200.3" y="360.2" font-size="10" text-anchor="middle" class="tk">−12</text>
<text x="230" y="360.2" font-size="10" text-anchor="middle" class="tk">0</text>
<text x="261.8" y="360.2" font-size="10" text-anchor="middle" class="tk">12</text>
<text x="291.5" y="360.2" font-size="10" text-anchor="middle" class="tk">24</text>
<text x="322.3" y="360.2" font-size="10" text-anchor="middle" class="tk">36</text>
<text x="14.2" y="369" font-size="5.4" textLength="45" fill="#222">/usr/bin/gpview</text>
<text x="65.5" y="369" font-size="5.4" textLength="35" fill="#222">2008−12−21</text>
<text x="482.2" y="369" font-size="5.4" text-anchor="end" textLength="190" fill="#222">MarsCond_PotTemp.nc@PotTempDist,x=0:50000,z=0:20000,t=723000</text>
</g>
<g transform="translate(0,370)">
<g clip-path="url(#pc)">
<g filter="url(#b2)"><rect x="40" y="45" width="435" height="255" fill="#19fa0a"/><path d="M164.8 69.1C164.8 71.4 165.7 77.3 164.8 82.7C163.9 88.2 159.5 93.5 159.4 101.8C159.2 110.1 164.8 126 163.9 132.7C163 139.3 156.8 137.8 153.9 141.8C151.1 145.7 147.1 150.6 146.7 156.3C146.2 162 150.1 171.7 151.2 176.1C152.3 180.5 155.9 179.2 153 182.7C150.1 186.2 138.3 193.3 133.9 197.2C129.6 201.2 129.7 203.9 126.7 206.3C123.7 208.8 120.6 211.3 115.8 211.8C110.9 212.2 102.8 208.9 97.6 209.1C92.5 209.2 88.2 211.5 84.9 212.7C81.6 213.9 81.9 215.4 77.6 216.3C73.4 217.2 62.5 217.8 59.5 218.1L50 55Z" fill="#0afa2d"/><path d="M152.1 69.1C152.1 71.4 152.4 77.9 152.1 82.7C151.8 87.6 150.3 91.4 150.3 98.2C150.3 105 153.5 117.5 152.1 123.6C150.7 129.7 144.5 129.7 142.1 134.5C139.7 139.3 138 147.5 137.6 152.7C137.1 157.8 138.3 161.5 139.4 165.4C140.5 169.3 143.5 174.1 143.9 176.1C144.4 178.1 144.7 175.3 142.1 177.3C139.5 179.3 132.9 184.8 128.5 188.2C124.1 191.5 120 195.4 115.8 197.2C111.5 199.1 107.3 199.4 103.1 199.1C98.8 198.8 94 197.2 90.3 195.4C86.7 193.6 83.4 190.6 81.3 188.2C79.1 185.7 81.3 182.7 77.6 180.9C74 179.1 62.5 177.9 59.5 177.3L50 55Z" fill="#00fa96"/><path d="M137.6 69.1C137.6 71.4 137.9 77.9 137.6 82.7C137.3 87.6 135.6 92.3 135.8 98.2C135.9 104.1 139.8 112.4 138.5 118.1C137.1 123.9 130.2 126.9 127.6 132.7C125 138.4 124 147.8 123 152.7C122.1 157.5 124 158.9 122.1 161.7C120.3 164.6 115.9 167.8 112.1 169.9C108.4 172 105.2 174 99.4 174.5C93.7 174.9 84.3 173.1 77.6 172.6C71 172.2 62.5 171.9 59.5 171.7L50 55Z" fill="#00f8f2"/><path d="M119.4 69.1C119.4 71.4 120.5 78.2 119.4 82.7C118.4 87.3 114.1 91.7 113.1 96.3C112 101 112 106.3 113.1 110.9C114.1 115.4 119.9 119.4 119.4 123.6C119 127.8 113.4 132.4 110.3 136.3C107.3 140.2 104.6 144 101.2 147.2C97.9 150.4 94 153.7 90.3 155.4C86.7 157.1 84.6 156.9 79.4 157.2C74.3 157.5 62.8 157.2 59.5 157.2L50 55Z" fill="#14c3ff"/><path d="M84.9 121.8C87.9 120 94.3 121.8 97.6 123.6C100.9 125.4 104.9 129.7 104.9 132.7C104.9 135.7 100.9 139.9 97.6 141.8C94.3 143.6 87.9 144.8 84.9 143.6C81.9 142.4 79.4 138.1 79.4 134.5C79.4 130.9 81.9 123.6 84.9 121.8Z" fill="#00a5ff"/><path d="M83.1 94.5C85.2 93 91.9 95.7 94 98.2C96.1 100.6 96.7 106.3 95.8 109.1C94.9 111.8 91 114.8 88.5 114.5C86.1 114.2 82.2 110.6 81.3 107.2C80.4 103.9 81 96 83.1 94.5Z" fill="#05afff"/><path d="M162.1 279C162.1 276.1 162.1 270.7 162.1 261.9C162.1 253.1 160.7 232.9 162.1 226.3C163.5 219.8 166.2 224.2 170.3 222.7C174.4 221.2 182.1 217.5 186.6 217.2C191.2 216.9 189.7 220 197.5 220.9C205.4 221.8 223.4 222.5 233.9 222.7C244.3 222.9 253.6 222.6 260 222.1C266.4 221.7 265.9 220.6 272.2 220C278.4 219.3 291.5 217.8 297.6 218.1C303.7 218.4 305.2 221.6 308.5 221.8C311.8 221.9 314.6 220.7 317.6 219C320.6 217.4 323.6 214.8 326.7 211.8C329.7 208.8 333.6 204.8 335.7 200.9C337.9 196.9 338.5 192.3 339.4 188.2C340.3 184 339.7 181.1 341.2 176.1C342.7 171.1 345.1 163.8 348.5 158.1C351.8 152.4 358.1 146.9 361.2 141.8C364.2 136.6 364.5 133.9 366.6 127.2C368.7 120.6 372.5 109.2 373.9 101.8C375.3 94.4 374.6 88.2 374.8 82.7C375 77.3 374.8 71.4 374.8 69.1L465 55L465 290Z" fill="#0afa2d"/><path d="M393 69.1C393 71.4 393.6 76.1 393 82.7C392.4 89.4 391.3 101 389.3 109.1C387.4 117.1 383.6 124.2 381.2 130.9C378.7 137.5 376.2 143.9 374.8 149C373.4 154.2 374.6 158.4 373 161.7C371.3 165.1 365.7 166.9 364.8 169C363.9 171.1 366.3 173.4 367.5 174.5C368.7 175.5 368.3 175.4 372.1 175.4C375.9 175.5 384.2 174.4 390.2 174.5C396.3 174.7 401.1 175.8 408.4 176.4C415.7 177 426.3 177.9 433.8 178.2C441.4 178.5 450.5 178.2 453.8 178.2L465 55Z" fill="#00fa96"/><path d="M407.5 69.1C407.5 71.4 407.8 77.9 407.5 82.7C407.2 87.6 406.7 93.2 405.7 98.2C404.6 103.2 402.2 105.7 401.1 112.7C400.1 119.7 399 133.9 399.3 139.9C399.6 146 400.8 146 403 149C405.1 152.1 408.7 155.4 412 158.1C415.4 160.8 419.3 163.4 422.9 165.4C426.6 167.3 428.7 168.7 433.8 169.9C439 171.1 450.5 172.2 453.8 172.6L465 55Z" fill="#00f8f2"/><path d="M428.4 69.1C428.4 71.4 429 78.5 428.4 82.7C427.8 87 425.4 90.7 424.8 94.5C424.1 98.3 423.4 102.9 424.8 105.4C426.1 108 428.1 109.1 432.9 110C437.8 110.9 450.3 110.7 453.8 110.9L465 55Z" fill="#19c6ff"/><path d="M453.8 120.9C450.5 121 438.4 119.5 433.8 121.8C429.3 124.1 427.8 130.9 426.6 134.5C425.4 138.1 425.5 140.6 426.6 143.6C427.6 146.6 428.4 151 432.9 152.7C437.5 154.3 450.3 153.4 453.8 153.6Z" fill="#19c6ff"/><path d="M178.5 69.1C178.5 71.4 180 77 178.5 82.7C176.9 88.5 170 93.8 169.4 103.6C168.8 113.5 175.9 133.6 174.8 141.8C173.8 149.9 165.9 149 163 152.7C160.1 156.3 157.9 159.7 157.6 163.6C157.3 167.5 159.7 173.8 161.2 176.1C162.7 178.4 165.3 173.1 166.6 177.3C168 181.4 166.6 195.6 169.4 200.9C172.1 206.2 178.3 207.4 183 209.1C187.7 210.7 192.7 209.8 197.5 210.9C202.4 211.9 205.4 214.2 212.1 215.4C218.7 216.6 229.5 217.7 237.5 218.1C245.5 218.6 254.2 218.8 260 218.3C265.8 217.9 265.6 217 272.2 215.4C278.7 213.9 292.1 210.6 299.4 209.1C306.7 207.5 311.8 208.3 315.8 206.3C319.7 204.4 321.2 200.3 323 197.2C324.8 194.2 325.1 194.4 326.7 188.2C328.2 181.9 330 167.1 332.1 159.9C334.2 152.8 336.7 150.8 339.4 145.4C342.1 139.9 345.9 134.5 348.5 127.2C351 120 353.2 109.2 354.8 101.8C356.5 94.4 357.8 88.2 358.5 82.7C359.1 77.3 358.5 71.4 358.5 69.1Z" fill="#8cfa00"/><path d="M193 69.1C193 71.4 195 77.3 193 82.7C191 88.2 183.3 96.5 181.2 101.8C179.1 107.1 178.8 110 180.3 114.5C181.8 119.1 189.8 124.8 190.3 129C190.7 133.3 185.3 134.5 183 139.9C180.7 145.4 177.8 155.7 176.6 161.7C175.4 167.8 175.7 172.9 175.7 176.1C175.7 179.3 175.1 178.4 176.6 180.9C178.1 183.4 181.9 187.6 184.8 190.9C187.7 194.2 189.3 198 193.9 200.9C198.4 203.8 206.3 206.5 212.1 208.1C217.8 209.8 220.4 210 228.4 210.9C236.4 211.8 253.3 213.4 260 213.6C266.7 213.7 264.1 213.3 268.5 211.8C273 210.3 280.6 207.2 286.7 204.5C292.8 201.8 300.3 198.8 304.9 195.4C309.4 192.1 311.2 189.5 313.9 184.5C316.7 179.5 319.7 171.3 321.2 165.4C322.7 159.5 322.1 154.8 323 149C323.9 143.3 325.1 136.3 326.7 130.9C328.2 125.4 330.9 121.8 332.1 116.3C333.3 110.9 333 103.8 333.9 98.2C334.8 92.6 337 87.6 337.6 82.7C338.2 77.9 337.6 71.4 337.6 69.1Z" fill="#ebfc00"/><path d="M214.8 69.1C214.8 71.4 216 78.5 214.8 82.7C213.6 87 210.1 91.1 207.5 94.5C204.9 98 201.3 99.7 199.3 103.6C197.4 107.6 195.3 113.9 195.7 118.1C196.2 122.4 203 124.2 202.1 129C201.2 133.9 193.1 140.9 190.3 147.2C187.4 153.6 185.4 162.4 184.8 167.2C184.2 172 185.4 174.1 186.6 176.1C187.8 178.1 189.7 177.7 192.1 179.1C194.5 180.5 199 182.1 201.2 184.5C203.3 187 201.8 190.6 204.8 193.6C207.8 196.6 213.9 200.4 219.3 202.7C224.8 205 230.7 206.3 237.5 207.2C244.3 208.1 255.4 208.6 260 208.1C264.6 207.7 262 206.3 264.9 204.5C267.8 202.7 273.1 200 277.6 197.2C282.2 194.5 288.2 190.9 292.1 188.2C296.1 185.4 299.1 184.7 301.2 180.9C303.3 177.1 303.3 169.2 304.9 165.4C306.4 161.6 309.1 162.3 310.3 158.1C311.5 153.9 311.4 145.4 312.1 139.9C312.9 134.5 315.2 131.2 314.9 125.4C314.6 119.7 310.5 112.5 310.3 105.4C310.2 98.3 313.3 88.8 313.9 82.7C314.6 76.7 313.9 71.4 313.9 69.1Z" fill="#ffc300"/><path d="M235.7 69.1C235.7 71.4 236.4 78.8 235.7 82.7C234.9 86.7 234.2 88.6 231.1 92.7C228.1 96.8 221.1 103.3 217.5 107.2C213.9 111.2 210.7 112.7 209.3 116.3C208 120 211.6 123 209.3 129C207.1 135.1 198.1 146.6 195.7 152.7C193.3 158.7 192.7 162.7 194.8 165.4C196.9 168.1 206 167.2 208.4 169C210.8 170.8 209.5 174.1 209.3 176.1C209.2 178.1 206.2 178.9 207.5 180.9C208.9 182.9 214.2 185.7 217.5 188.2C220.8 190.6 224.2 193.3 227.5 195.4C230.8 197.6 232.1 200.1 237.5 200.9C242.9 201.6 255.7 200.6 260 200C264.3 199.4 261.1 198.9 263.1 197.2C265.1 195.6 269.1 192.4 272.2 190C275.2 187.6 278.2 184.8 281.2 182.7C284.3 180.6 288.4 181.1 290.3 177.3C292.3 173.5 291.4 164 293.1 159.9C294.7 155.8 299.3 155.7 300.3 152.7C301.4 149.6 300.5 145.4 299.4 141.8C298.4 138.1 294.1 133.6 294 130.9C293.8 128.1 297.6 127.8 298.5 125.4C299.4 123 299.9 119.7 299.4 116.3C299 113 297.6 109.1 295.8 105.4C294 101.8 289.9 98.3 288.5 94.5C287.2 90.7 287.8 87 287.6 82.7C287.5 78.5 287.6 71.4 287.6 69.1Z" fill="#ff6900"/><path d="M257.5 98.2C254.4 99.1 248.7 101.2 246.6 103.6C244.5 106 248.4 109.7 244.8 112.7C241.1 115.7 229.3 118.1 224.8 121.8C220.2 125.4 220.7 129.3 217.5 134.5C214.3 139.6 207.1 148.7 205.7 152.7C204.3 156.6 206.2 156.6 209.3 158.1C212.5 159.6 221.3 159.6 224.8 161.7C228.3 163.9 229.6 168.4 230.2 170.8C230.8 173.2 228.1 174.1 228.4 176.1C228.7 178.1 229.3 180.4 232 182.7C234.8 185 240.8 188.8 244.8 190C248.7 191.2 253.1 190.9 255.7 190C258.2 189.1 259.7 185.4 260 184.5C260.3 183.6 256.8 185.4 257.6 184.5C258.4 183.6 262.8 181.2 264.9 179.1C267 177 267.9 173.2 270.3 171.8C272.8 170.4 277.2 171.9 279.4 170.8C281.7 169.8 283.7 168.4 284 165.4C284.3 162.3 280.8 156.6 281.2 152.7C281.7 148.7 287 145.7 286.7 141.8C286.4 137.8 282.2 133.3 279.4 129C276.7 124.8 271.3 120.3 270.3 116.3C269.4 112.4 274.9 108.5 274 105.4C273.1 102.4 267.7 99.4 264.9 98.2C262.1 97 260.5 97.3 257.5 98.2Z" fill="#ff2d00"/><path d="M228.4 134.5C229.8 132.5 232.9 130.9 237.5 130C242 129 251.7 128.6 255.7 129C259.6 129.5 259.6 131.2 261.3 132.7C263 134.2 266.3 136.2 265.8 138.1C265.4 140.1 258.7 142.1 258.5 144.5C258.4 146.9 263.1 150.2 264.9 152.7C266.7 155.1 271.3 157.8 269.4 159C267.6 160.2 257.8 159.9 254 159.9C250.2 159.9 250.5 159.9 246.6 159C242.6 158.1 233.9 156.1 230.2 154.5C226.6 152.8 224.9 151.1 224.8 149C224.6 146.9 228.7 144.2 229.3 141.8C229.9 139.3 227 136.5 228.4 134.5Z" fill="#ff0f19"/><path d="M59.5 227.2C62.5 227.4 72.8 227.5 77.6 228.1C82.5 228.7 84.6 230.4 88.5 230.9C92.5 231.3 97.6 231.6 101.2 230.9C104.9 230.1 107 226.9 110.3 226.3C113.7 225.7 117.3 225.4 121.2 227.2C125.2 229 129.7 234 133.9 237.2C138.2 240.4 143.8 243.3 146.7 246.3C149.5 249.3 150.3 252.8 151.2 255.4C152.1 258 152 258 152.1 261.9C152.3 265.9 152.1 276.1 152.1 279L50 290Z" fill="#8cfa00"/><path d="M59.5 237.6C62.5 237.7 72.2 237.9 77.6 238.1C83.1 238.4 85.8 239.3 92.2 239C98.5 238.7 109.7 235.7 115.8 236.3C121.8 236.9 124.9 239.8 128.5 242.7C132.1 245.5 135.5 250.4 137.6 253.6C139.7 256.8 140.5 257.7 141.2 261.9C141.9 266.2 141.5 276.1 141.6 279L50 290Z" fill="#ebfc00"/><path d="M59.5 247.2C62.5 247.1 72.2 246.9 77.6 246.3C83.1 245.7 86.7 243.9 92.2 243.6C97.6 243.3 105.2 243.1 110.3 244.5C115.5 245.8 120.3 248.8 123 251.7C125.8 254.7 126 257.4 126.7 261.9C127.3 266.5 127 276.1 127 279L50 290Z" fill="#ffc300"/><path d="M59.5 255.4C62.5 255.1 72.2 254.6 77.6 253.6C83.1 252.5 87.6 249.2 92.2 249C96.7 248.9 101.7 250.5 104.9 252.7C108.1 254.8 110 257.5 111.2 261.9C112.4 266.3 112 276.1 112.1 279L50 290Z" fill="#ff6900"/><path d="M171.2 275.2C171.2 273.5 171.2 268.4 171.2 264.7C171.3 261 171.1 256.7 171.8 253C172.6 249.2 174.1 245.2 175.9 242.4C177.8 239.6 180.2 237.8 183 236C185.7 234.1 189.2 232.4 192.3 231.3C195.5 230.1 196.3 229.6 201.7 228.9C207.2 228.3 217.3 227.7 225.2 227.4C233 227.1 240.8 227.1 248.6 227.2C256.4 227.2 266.2 227.5 272 227.8C277.9 228.1 279.8 228.3 283.8 228.9C287.7 229.5 291.6 230 295.5 231.3C299.4 232.5 303.3 234.3 307.2 236.5C311.1 238.8 315.4 241.8 318.9 244.8C322.4 247.7 325.6 250.8 328.3 254.1C330.9 257.4 333.7 261.2 334.8 264.7C336 268.2 335.2 273.5 335.3 275.2Z" fill="#00fa96"/><path d="M181.2 275.2C181.2 273.5 181.1 268 181.2 264.7C181.3 261.4 181.1 258.4 181.8 255.3C182.5 252.2 183.9 248.4 185.3 245.9C186.7 243.5 188 242.3 190 240.6C192 239 194.1 237.3 197 236C200 234.6 202.9 233.4 207.6 232.4C212.3 231.5 218.3 230.9 225.2 230.5C232 230 240.8 229.8 248.6 229.8C256.4 229.7 266.4 229.9 272 230.1C277.7 230.3 279.7 230.4 282.6 230.9C285.5 231.4 287.5 232.2 289.6 233C291.8 233.9 293.3 234.6 295.5 236C297.6 237.3 300.1 239.3 302.5 241.2C304.9 243.2 307.5 245.3 310 247.7C312.5 250 315.4 252.5 317.7 255.3C320.1 258.1 322.8 261.4 324 264.7C325.1 268 324.6 273.5 324.8 275.2Z" fill="#00f8f2"/><path d="M190.2 275.2C190.2 273.5 190.2 268 190.2 264.7C190.3 261.4 190 258.4 190.6 255.3C191.1 252.2 192.1 248.5 193.5 245.9C195 243.4 197 241.6 199.4 240.1C201.7 238.5 203.3 237.6 207.6 236.5C211.9 235.5 218.3 234.6 225.2 234C232 233.4 240.8 233.1 248.6 233C256.4 233 266.6 233.1 272 233.6C277.5 234.1 278.9 234.7 281.4 236C283.9 237.2 284.9 239.6 287.3 241.2C289.6 242.9 292.5 244 295.5 245.9C298.4 247.9 302.1 250.6 304.8 253C307.6 255.3 310.2 258 311.9 260C313.5 261.9 314.2 262.1 314.8 264.7C315.4 267.2 315.3 273.5 315.4 275.2Z" fill="#0ab9ff"/><path d="M197.5 275.2C197.5 273.5 197.4 268 197.5 264.7C197.6 261.4 197.5 258.2 198.2 255.3C198.9 252.4 200 249.3 201.7 247.1C203.5 244.8 205.8 243.3 208.8 241.8C211.7 240.4 214.6 239.1 219.3 238.3C224 237.5 231 237.1 236.9 236.8C242.7 236.5 248.6 236.4 254.5 236.5C260.3 236.7 268.1 236.9 272 237.7C275.9 238.5 276.3 240 277.9 241.2C279.5 242.5 279.5 243.8 281.4 245.3C283.4 246.9 286.9 248.8 289.6 250.6C292.3 252.5 295.6 254.5 297.8 256.5C300.1 258.4 302.1 261 303.1 262.3C304.1 263.7 303.7 262.5 303.9 264.7C304.1 266.8 304.2 273.5 304.3 275.2Z" fill="#0069ff"/><path d="M206.6 275.2C206.6 273.5 206.5 267.8 206.6 264.7C206.8 261.5 206.6 259 207.6 256.5C208.5 253.9 210.1 251.5 212.3 249.4C214.4 247.4 217.3 245.6 220.5 244.2C223.6 242.8 226.3 241.7 231 241C235.7 240.3 243.3 239.9 248.6 239.8C253.9 239.8 258.8 240 262.7 240.6C266.6 241.3 269.7 242.2 272 243.6C274.4 244.9 274.8 247.2 276.7 248.9C278.7 250.5 281.6 252 283.8 253.5C285.9 255.1 288.1 256.4 289.6 258.2C291.2 260.1 292.4 261.8 293 264.7C293.6 267.5 293.3 273.5 293.4 275.2Z" fill="#0019fa"/><path d="M217.5 275.2C217.5 273.5 217.3 267.6 217.5 264.7C217.7 261.7 217.6 259.9 218.7 257.6C219.8 255.4 221.7 253.1 224 251.2C226.2 249.3 229.1 247.7 232.2 246.5C235.3 245.3 239 244.7 242.7 244.2C246.4 243.7 250.7 243.4 254.5 243.6C258.2 243.8 262.1 244.4 265 245.3C267.9 246.3 270.1 247.9 272 249.4C274 251 275.3 253 276.7 254.7C278.2 256.5 279.9 258.3 280.8 260C281.7 261.6 281.9 262.1 282.1 264.7C282.4 267.2 282.3 273.5 282.3 275.2Z" fill="#0f00fa"/><path d="M229.3 275.2C229.3 273.5 229.1 267.1 229.3 264.7C229.5 262.2 229.5 262 230.4 260.6C231.4 259.2 232.9 257.3 235.1 256.2C237.4 255.2 240.9 254.4 243.9 254.1C246.9 253.8 250.8 254 253.3 254.5C255.8 255 257.6 255.9 258.9 257.1C260.2 258.2 260.6 259.9 261 261.2C261.4 262.4 261.4 262.3 261.5 264.7C261.6 267 261.7 273.5 261.7 275.2Z" fill="#8c00d7"/><path d="M453.8 207.2C450.5 207.1 438.4 208 434.2 206.3C430 204.7 431.5 199.8 428.4 197.2C425.3 194.7 419 192.1 415.7 190.9C412.3 189.7 411.1 189.7 408.4 190C405.7 190.3 402 192.6 399.3 192.7C396.6 192.9 395.4 191.5 392.1 190.9C388.7 190.3 382.5 188.6 379.3 189.1C376.2 189.5 374.2 191.5 373 193.6C371.8 195.7 371.9 198.8 372.1 201.8C372.2 204.8 371.8 208.3 373.9 211.8C376 215.3 381.8 219 384.8 222.7C387.8 226.3 391.5 231.2 392.1 233.6C392.7 236 390.5 237.4 388.4 237.2C386.3 237.1 383.6 233 379.3 232.7C375.1 232.4 368.1 234.3 363 235.4C357.8 236.5 353.6 238.1 348.5 239C343.3 239.9 335 239.6 332.1 240.8C329.2 242.1 330.6 244.2 331.2 246.3C331.8 248.4 334.7 251 335.7 253.6C336.8 256.2 337.2 257.7 337.6 261.9C337.9 266.2 337.9 276.1 337.9 279L465 290Z" fill="#3cfa05"/><path d="M384.8 206.3C385.4 203.9 389.6 201.8 392.1 202.7C394.5 203.6 396.3 212.1 399.3 211.8C402.3 211.5 406 202.1 410.2 200.9C414.5 199.7 421.1 201.8 424.8 204.5C428.4 207.2 427.2 213.9 432 217.2C436.9 220.6 450.2 214.2 453.8 224.5C457.5 234.8 472.9 269.9 453.8 279C434.7 288.1 358.8 283.8 339.4 279C320 274.1 336 256 337.6 249.9C339.1 243.9 343.6 244.5 348.5 242.7C353.3 240.8 361.2 239 366.6 239C372.1 239 375.7 241.5 381.2 242.7C386.6 243.9 395.7 246.9 399.3 246.3C403 245.7 403.3 241.8 403 239C402.7 236.3 399.9 233.6 397.5 229.9C395.1 226.3 390.5 221.2 388.4 217.2C386.3 213.3 384.2 208.8 384.8 206.3Z" fill="#78fa00"/><path d="M401.1 222.7C403 220.4 410.8 215.1 413.9 214.5C416.9 213.9 417.8 216.8 419.3 219C420.8 221.3 423.8 226 422.9 228.1C422 230.2 417.2 231.8 413.9 231.8C410.5 231.8 405.1 229.6 403 228.1C400.8 226.6 399.3 225 401.1 222.7Z" fill="#c3fc00"/><path d="M347.6 248.1C347.6 246.1 352.2 243.6 355.7 243.6C359.2 243.6 364.5 246.9 368.4 248.1C372.4 249.3 377.2 249.3 379.3 250.8C381.5 252.3 381.5 255.3 381.2 257.2C380.9 259 380.6 261.9 377.5 261.9C374.5 261.9 366.6 258.3 363 257.2C359.4 256.1 358.3 256.9 355.7 255.4C353.2 253.9 347.6 250.1 347.6 248.1Z" fill="#c3fc00"/><path d="M428.4 279C428.4 276.1 428.2 266.5 428.4 261.9C428.5 257.4 428.4 254 429.3 251.7C430.2 249.4 429.7 248.9 433.8 248.1C437.9 247.4 450.5 247.4 453.8 247.2L465 290Z" fill="#ffcd00"/><path d="M343 224.5C343.9 222.2 351.8 220.7 355.7 219C359.7 217.4 365.4 214.2 366.6 214.5C367.8 214.8 364.5 218.3 363 220.9C361.5 223.4 359.7 228 357.5 229.9C355.4 231.9 352.7 233.6 350.3 232.7C347.9 231.8 342.1 226.8 343 224.5Z" fill="#00fa82"/></g><path d="M233.4 264.7C229.8 263.9 233.4 261.2 233.9 260C234.5 258.8 235.4 258.2 236.9 257.6C238.3 257.1 240.8 256.9 242.7 256.8C244.7 256.7 246.8 256.7 248.6 257.1C250.4 257.4 252.2 258.1 253.3 258.8C254.4 259.5 254.7 260.2 255 261.2C255.4 262.1 258.8 264.1 255.2 264.7C251.5 265.3 236.9 265.5 233.4 264.7Z" fill="#fff"/><path d="M164.8 69.1C164.8 71.4 165.7 77.3 164.8 82.7C163.9 88.2 159.5 93.5 159.4 101.8C159.2 110.1 164.8 126 163.9 132.7C163 139.3 156.8 137.8 153.9 141.8C151.1 145.7 147.1 150.6 146.7 156.3C146.2 162 150.1 171.7 151.2 176.1C152.3 180.5 155.9 179.2 153 182.7C150.1 186.2 138.3 193.3 133.9 197.2C129.6 201.2 129.7 203.9 126.7 206.3C123.7 208.8 120.6 211.3 115.8 211.8C110.9 212.2 102.8 208.9 97.6 209.1C92.5 209.2 88.2 211.5 84.9 212.7C81.6 213.9 81.9 215.4 77.6 216.3C73.4 217.2 62.5 217.8 59.5 218.1" fill="none" stroke="#000" stroke-width="1.35"/><path d="M152.1 69.1C152.1 71.4 152.4 77.9 152.1 82.7C151.8 87.6 150.3 91.4 150.3 98.2C150.3 105 153.5 117.5 152.1 123.6C150.7 129.7 144.5 129.7 142.1 134.5C139.7 139.3 138 147.5 137.6 152.7C137.1 157.8 138.3 161.5 139.4 165.4C140.5 169.3 143.5 174.1 143.9 176.1C144.4 178.1 144.7 175.3 142.1 177.3C139.5 179.3 132.9 184.8 128.5 188.2C124.1 191.5 120 195.4 115.8 197.2C111.5 199.1 107.3 199.4 103.1 199.1C98.8 198.8 94 197.2 90.3 195.4C86.7 193.6 83.4 190.6 81.3 188.2C79.1 185.7 81.3 182.7 77.6 180.9C74 179.1 62.5 177.9 59.5 177.3" fill="none" stroke="#000" stroke-width="0.7" stroke-dasharray="3 2"/><path d="M137.6 69.1C137.6 71.4 137.9 77.9 137.6 82.7C137.3 87.6 135.6 92.3 135.8 98.2C135.9 104.1 139.8 112.4 138.5 118.1C137.1 123.9 130.2 126.9 127.6 132.7C125 138.4 124 147.8 123 152.7C122.1 157.5 124 158.9 122.1 161.7C120.3 164.6 115.9 167.8 112.1 169.9C108.4 172 105.2 174 99.4 174.5C93.7 174.9 84.3 173.1 77.6 172.6C71 172.2 62.5 171.9 59.5 171.7" fill="none" stroke="#000" stroke-width="1.35" stroke-dasharray="4 2.2"/><path d="M119.4 69.1C119.4 71.4 120.5 78.2 119.4 82.7C118.4 87.3 114.1 91.7 113.1 96.3C112 101 112 106.3 113.1 110.9C114.1 115.4 119.9 119.4 119.4 123.6C119 127.8 113.4 132.4 110.3 136.3C107.3 140.2 104.6 144 101.2 147.2C97.9 150.4 94 153.7 90.3 155.4C86.7 157.1 84.6 156.9 79.4 157.2C74.3 157.5 62.8 157.2 59.5 157.2" fill="none" stroke="#000" stroke-width="0.7" stroke-dasharray="3 2"/><path d="M162.1 279C162.1 276.1 162.1 270.7 162.1 261.9C162.1 253.1 160.7 232.9 162.1 226.3C163.5 219.8 166.2 224.2 170.3 222.7C174.4 221.2 182.1 217.5 186.6 217.2C191.2 216.9 189.7 220 197.5 220.9C205.4 221.8 223.4 222.5 233.9 222.7C244.3 222.9 253.6 222.6 260 222.1C266.4 221.7 265.9 220.6 272.2 220C278.4 219.3 291.5 217.8 297.6 218.1C303.7 218.4 305.2 221.6 308.5 221.8C311.8 221.9 314.6 220.7 317.6 219C320.6 217.4 323.6 214.8 326.7 211.8C329.7 208.8 333.6 204.8 335.7 200.9C337.9 196.9 338.5 192.3 339.4 188.2C340.3 184 339.7 181.1 341.2 176.1C342.7 171.1 345.1 163.8 348.5 158.1C351.8 152.4 358.1 146.9 361.2 141.8C364.2 136.6 364.5 133.9 366.6 127.2C368.7 120.6 372.5 109.2 373.9 101.8C375.3 94.4 374.6 88.2 374.8 82.7C375 77.3 374.8 71.4 374.8 69.1" fill="none" stroke="#000" stroke-width="1.35"/><path d="M393 69.1C393 71.4 393.6 76.1 393 82.7C392.4 89.4 391.3 101 389.3 109.1C387.4 117.1 383.6 124.2 381.2 130.9C378.7 137.5 376.2 143.9 374.8 149C373.4 154.2 374.6 158.4 373 161.7C371.3 165.1 365.7 166.9 364.8 169C363.9 171.1 366.3 173.4 367.5 174.5C368.7 175.5 368.3 175.4 372.1 175.4C375.9 175.5 384.2 174.4 390.2 174.5C396.3 174.7 401.1 175.8 408.4 176.4C415.7 177 426.3 177.9 433.8 178.2C441.4 178.5 450.5 178.2 453.8 178.2" fill="none" stroke="#000" stroke-width="0.7" stroke-dasharray="3 2"/><path d="M407.5 69.1C407.5 71.4 407.8 77.9 407.5 82.7C407.2 87.6 406.7 93.2 405.7 98.2C404.6 103.2 402.2 105.7 401.1 112.7C400.1 119.7 399 133.9 399.3 139.9C399.6 146 400.8 146 403 149C405.1 152.1 408.7 155.4 412 158.1C415.4 160.8 419.3 163.4 422.9 165.4C426.6 167.3 428.7 168.7 433.8 169.9C439 171.1 450.5 172.2 453.8 172.6" fill="none" stroke="#000" stroke-width="1.35" stroke-dasharray="4 2.2"/><path d="M428.4 69.1C428.4 71.4 429 78.5 428.4 82.7C427.8 87 425.4 90.7 424.8 94.5C424.1 98.3 423.4 102.9 424.8 105.4C426.1 108 428.1 109.1 432.9 110C437.8 110.9 450.3 110.7 453.8 110.9" fill="none" stroke="#000" stroke-width="0.7" stroke-dasharray="3 2"/><path d="M453.8 120.9C450.5 121 438.4 119.5 433.8 121.8C429.3 124.1 427.8 130.9 426.6 134.5C425.4 138.1 425.5 140.6 426.6 143.6C427.6 146.6 428.4 151 432.9 152.7C437.5 154.3 450.3 153.4 453.8 153.6" fill="none" stroke="#000" stroke-width="0.7" stroke-dasharray="3 2"/><path d="M178.5 69.1C178.5 71.4 180 77 178.5 82.7C176.9 88.5 170 93.8 169.4 103.6C168.8 113.5 175.9 133.6 174.8 141.8C173.8 149.9 165.9 149 163 152.7C160.1 156.3 157.9 159.7 157.6 163.6C157.3 167.5 159.7 173.8 161.2 176.1C162.7 178.4 165.3 173.1 166.6 177.3C168 181.4 166.6 195.6 169.4 200.9C172.1 206.2 178.3 207.4 183 209.1C187.7 210.7 192.7 209.8 197.5 210.9C202.4 211.9 205.4 214.2 212.1 215.4C218.7 216.6 229.5 217.7 237.5 218.1C245.5 218.6 254.2 218.8 260 218.3C265.8 217.9 265.6 217 272.2 215.4C278.7 213.9 292.1 210.6 299.4 209.1C306.7 207.5 311.8 208.3 315.8 206.3C319.7 204.4 321.2 200.3 323 197.2C324.8 194.2 325.1 194.4 326.7 188.2C328.2 181.9 330 167.1 332.1 159.9C334.2 152.8 336.7 150.8 339.4 145.4C342.1 139.9 345.9 134.5 348.5 127.2C351 120 353.2 109.2 354.8 101.8C356.5 94.4 357.8 88.2 358.5 82.7C359.1 77.3 358.5 71.4 358.5 69.1" fill="none" stroke="#000" stroke-width="0.7"/><path d="M193 69.1C193 71.4 195 77.3 193 82.7C191 88.2 183.3 96.5 181.2 101.8C179.1 107.1 178.8 110 180.3 114.5C181.8 119.1 189.8 124.8 190.3 129C190.7 133.3 185.3 134.5 183 139.9C180.7 145.4 177.8 155.7 176.6 161.7C175.4 167.8 175.7 172.9 175.7 176.1C175.7 179.3 175.1 178.4 176.6 180.9C178.1 183.4 181.9 187.6 184.8 190.9C187.7 194.2 189.3 198 193.9 200.9C198.4 203.8 206.3 206.5 212.1 208.1C217.8 209.8 220.4 210 228.4 210.9C236.4 211.8 253.3 213.4 260 213.6C266.7 213.7 264.1 213.3 268.5 211.8C273 210.3 280.6 207.2 286.7 204.5C292.8 201.8 300.3 198.8 304.9 195.4C309.4 192.1 311.2 189.5 313.9 184.5C316.7 179.5 319.7 171.3 321.2 165.4C322.7 159.5 322.1 154.8 323 149C323.9 143.3 325.1 136.3 326.7 130.9C328.2 125.4 330.9 121.8 332.1 116.3C333.3 110.9 333 103.8 333.9 98.2C334.8 92.6 337 87.6 337.6 82.7C338.2 77.9 337.6 71.4 337.6 69.1" fill="none" stroke="#000" stroke-width="1.35"/><path d="M214.8 69.1C214.8 71.4 216 78.5 214.8 82.7C213.6 87 210.1 91.1 207.5 94.5C204.9 98 201.3 99.7 199.3 103.6C197.4 107.6 195.3 113.9 195.7 118.1C196.2 122.4 203 124.2 202.1 129C201.2 133.9 193.1 140.9 190.3 147.2C187.4 153.6 185.4 162.4 184.8 167.2C184.2 172 185.4 174.1 186.6 176.1C187.8 178.1 189.7 177.7 192.1 179.1C194.5 180.5 199 182.1 201.2 184.5C203.3 187 201.8 190.6 204.8 193.6C207.8 196.6 213.9 200.4 219.3 202.7C224.8 205 230.7 206.3 237.5 207.2C244.3 208.1 255.4 208.6 260 208.1C264.6 207.7 262 206.3 264.9 204.5C267.8 202.7 273.1 200 277.6 197.2C282.2 194.5 288.2 190.9 292.1 188.2C296.1 185.4 299.1 184.7 301.2 180.9C303.3 177.1 303.3 169.2 304.9 165.4C306.4 161.6 309.1 162.3 310.3 158.1C311.5 153.9 311.4 145.4 312.1 139.9C312.9 134.5 315.2 131.2 314.9 125.4C314.6 119.7 310.5 112.5 310.3 105.4C310.2 98.3 313.3 88.8 313.9 82.7C314.6 76.7 313.9 71.4 313.9 69.1" fill="none" stroke="#000" stroke-width="0.7"/><path d="M235.7 69.1C235.7 71.4 236.4 78.8 235.7 82.7C234.9 86.7 234.2 88.6 231.1 92.7C228.1 96.8 221.1 103.3 217.5 107.2C213.9 111.2 210.7 112.7 209.3 116.3C208 120 211.6 123 209.3 129C207.1 135.1 198.1 146.6 195.7 152.7C193.3 158.7 192.7 162.7 194.8 165.4C196.9 168.1 206 167.2 208.4 169C210.8 170.8 209.5 174.1 209.3 176.1C209.2 178.1 206.2 178.9 207.5 180.9C208.9 182.9 214.2 185.7 217.5 188.2C220.8 190.6 224.2 193.3 227.5 195.4C230.8 197.6 232.1 200.1 237.5 200.9C242.9 201.6 255.7 200.6 260 200C264.3 199.4 261.1 198.9 263.1 197.2C265.1 195.6 269.1 192.4 272.2 190C275.2 187.6 278.2 184.8 281.2 182.7C284.3 180.6 288.4 181.1 290.3 177.3C292.3 173.5 291.4 164 293.1 159.9C294.7 155.8 299.3 155.7 300.3 152.7C301.4 149.6 300.5 145.4 299.4 141.8C298.4 138.1 294.1 133.6 294 130.9C293.8 128.1 297.6 127.8 298.5 125.4C299.4 123 299.9 119.7 299.4 116.3C299 113 297.6 109.1 295.8 105.4C294 101.8 289.9 98.3 288.5 94.5C287.2 90.7 287.8 87 287.6 82.7C287.5 78.5 287.6 71.4 287.6 69.1" fill="none" stroke="#000" stroke-width="1.35"/><path d="M257.5 98.2C254.4 99.1 248.7 101.2 246.6 103.6C244.5 106 248.4 109.7 244.8 112.7C241.1 115.7 229.3 118.1 224.8 121.8C220.2 125.4 220.7 129.3 217.5 134.5C214.3 139.6 207.1 148.7 205.7 152.7C204.3 156.6 206.2 156.6 209.3 158.1C212.5 159.6 221.3 159.6 224.8 161.7C228.3 163.9 229.6 168.4 230.2 170.8C230.8 173.2 228.1 174.1 228.4 176.1C228.7 178.1 229.3 180.4 232 182.7C234.8 185 240.8 188.8 244.8 190C248.7 191.2 253.1 190.9 255.7 190C258.2 189.1 259.7 185.4 260 184.5C260.3 183.6 256.8 185.4 257.6 184.5C258.4 183.6 262.8 181.2 264.9 179.1C267 177 267.9 173.2 270.3 171.8C272.8 170.4 277.2 171.9 279.4 170.8C281.7 169.8 283.7 168.4 284 165.4C284.3 162.3 280.8 156.6 281.2 152.7C281.7 148.7 287 145.7 286.7 141.8C286.4 137.8 282.2 133.3 279.4 129C276.7 124.8 271.3 120.3 270.3 116.3C269.4 112.4 274.9 108.5 274 105.4C273.1 102.4 267.7 99.4 264.9 98.2C262.1 97 260.5 97.3 257.5 98.2Z" fill="none" stroke="#000" stroke-width="0.7"/><path d="M228.4 134.5C229.8 132.5 232.9 130.9 237.5 130C242 129 251.7 128.6 255.7 129C259.6 129.5 259.6 131.2 261.3 132.7C263 134.2 266.3 136.2 265.8 138.1C265.4 140.1 258.7 142.1 258.5 144.5C258.4 146.9 263.1 150.2 264.9 152.7C266.7 155.1 271.3 157.8 269.4 159C267.6 160.2 257.8 159.9 254 159.9C250.2 159.9 250.5 159.9 246.6 159C242.6 158.1 233.9 156.1 230.2 154.5C226.6 152.8 224.9 151.1 224.8 149C224.6 146.9 228.7 144.2 229.3 141.8C229.9 139.3 227 136.5 228.4 134.5Z" fill="none" stroke="#000" stroke-width="1.35"/><path d="M59.5 227.2C62.5 227.4 72.8 227.5 77.6 228.1C82.5 228.7 84.6 230.4 88.5 230.9C92.5 231.3 97.6 231.6 101.2 230.9C104.9 230.1 107 226.9 110.3 226.3C113.7 225.7 117.3 225.4 121.2 227.2C125.2 229 129.7 234 133.9 237.2C138.2 240.4 143.8 243.3 146.7 246.3C149.5 249.3 150.3 252.8 151.2 255.4C152.1 258 152 258 152.1 261.9C152.3 265.9 152.1 276.1 152.1 279" fill="none" stroke="#000" stroke-width="0.7"/><path d="M59.5 237.6C62.5 237.7 72.2 237.9 77.6 238.1C83.1 238.4 85.8 239.3 92.2 239C98.5 238.7 109.7 235.7 115.8 236.3C121.8 236.9 124.9 239.8 128.5 242.7C132.1 245.5 135.5 250.4 137.6 253.6C139.7 256.8 140.5 257.7 141.2 261.9C141.9 266.2 141.5 276.1 141.6 279" fill="none" stroke="#000" stroke-width="1.35"/><path d="M59.5 247.2C62.5 247.1 72.2 246.9 77.6 246.3C83.1 245.7 86.7 243.9 92.2 243.6C97.6 243.3 105.2 243.1 110.3 244.5C115.5 245.8 120.3 248.8 123 251.7C125.8 254.7 126 257.4 126.7 261.9C127.3 266.5 127 276.1 127 279" fill="none" stroke="#000" stroke-width="0.7"/><path d="M59.5 255.4C62.5 255.1 72.2 254.6 77.6 253.6C83.1 252.5 87.6 249.2 92.2 249C96.7 248.9 101.7 250.5 104.9 252.7C108.1 254.8 110 257.5 111.2 261.9C112.4 266.3 112 276.1 112.1 279" fill="none" stroke="#000" stroke-width="1.35"/><path d="M171.2 275.2C171.2 273.5 171.2 268.4 171.2 264.7C171.3 261 171.1 256.7 171.8 253C172.6 249.2 174.1 245.2 175.9 242.4C177.8 239.6 180.2 237.8 183 236C185.7 234.1 189.2 232.4 192.3 231.3C195.5 230.1 196.3 229.6 201.7 228.9C207.2 228.3 217.3 227.7 225.2 227.4C233 227.1 240.8 227.1 248.6 227.2C256.4 227.2 266.2 227.5 272 227.8C277.9 228.1 279.8 228.3 283.8 228.9C287.7 229.5 291.6 230 295.5 231.3C299.4 232.5 303.3 234.3 307.2 236.5C311.1 238.8 315.4 241.8 318.9 244.8C322.4 247.7 325.6 250.8 328.3 254.1C330.9 257.4 333.7 261.2 334.8 264.7C336 268.2 335.2 273.5 335.3 275.2" fill="none" stroke="#000" stroke-width="0.7" stroke-dasharray="3 2"/><path d="M181.2 275.2C181.2 273.5 181.1 268 181.2 264.7C181.3 261.4 181.1 258.4 181.8 255.3C182.5 252.2 183.9 248.4 185.3 245.9C186.7 243.5 188 242.3 190 240.6C192 239 194.1 237.3 197 236C200 234.6 202.9 233.4 207.6 232.4C212.3 231.5 218.3 230.9 225.2 230.5C232 230 240.8 229.8 248.6 229.8C256.4 229.7 266.4 229.9 272 230.1C277.7 230.3 279.7 230.4 282.6 230.9C285.5 231.4 287.5 232.2 289.6 233C291.8 233.9 293.3 234.6 295.5 236C297.6 237.3 300.1 239.3 302.5 241.2C304.9 243.2 307.5 245.3 310 247.7C312.5 250 315.4 252.5 317.7 255.3C320.1 258.1 322.8 261.4 324 264.7C325.1 268 324.6 273.5 324.8 275.2" fill="none" stroke="#000" stroke-width="1.35" stroke-dasharray="4 2.2"/><path d="M190.2 275.2C190.2 273.5 190.2 268 190.2 264.7C190.3 261.4 190 258.4 190.6 255.3C191.1 252.2 192.1 248.5 193.5 245.9C195 243.4 197 241.6 199.4 240.1C201.7 238.5 203.3 237.6 207.6 236.5C211.9 235.5 218.3 234.6 225.2 234C232 233.4 240.8 233.1 248.6 233C256.4 233 266.6 233.1 272 233.6C277.5 234.1 278.9 234.7 281.4 236C283.9 237.2 284.9 239.6 287.3 241.2C289.6 242.9 292.5 244 295.5 245.9C298.4 247.9 302.1 250.6 304.8 253C307.6 255.3 310.2 258 311.9 260C313.5 261.9 314.2 262.1 314.8 264.7C315.4 267.2 315.3 273.5 315.4 275.2" fill="none" stroke="#000" stroke-width="0.7" stroke-dasharray="3 2"/><path d="M197.5 275.2C197.5 273.5 197.4 268 197.5 264.7C197.6 261.4 197.5 258.2 198.2 255.3C198.9 252.4 200 249.3 201.7 247.1C203.5 244.8 205.8 243.3 208.8 241.8C211.7 240.4 214.6 239.1 219.3 238.3C224 237.5 231 237.1 236.9 236.8C242.7 236.5 248.6 236.4 254.5 236.5C260.3 236.7 268.1 236.9 272 237.7C275.9 238.5 276.3 240 277.9 241.2C279.5 242.5 279.5 243.8 281.4 245.3C283.4 246.9 286.9 248.8 289.6 250.6C292.3 252.5 295.6 254.5 297.8 256.5C300.1 258.4 302.1 261 303.1 262.3C304.1 263.7 303.7 262.5 303.9 264.7C304.1 266.8 304.2 273.5 304.3 275.2" fill="none" stroke="#000" stroke-width="1.35" stroke-dasharray="4 2.2"/><path d="M206.6 275.2C206.6 273.5 206.5 267.8 206.6 264.7C206.8 261.5 206.6 259 207.6 256.5C208.5 253.9 210.1 251.5 212.3 249.4C214.4 247.4 217.3 245.6 220.5 244.2C223.6 242.8 226.3 241.7 231 241C235.7 240.3 243.3 239.9 248.6 239.8C253.9 239.8 258.8 240 262.7 240.6C266.6 241.3 269.7 242.2 272 243.6C274.4 244.9 274.8 247.2 276.7 248.9C278.7 250.5 281.6 252 283.8 253.5C285.9 255.1 288.1 256.4 289.6 258.2C291.2 260.1 292.4 261.8 293 264.7C293.6 267.5 293.3 273.5 293.4 275.2" fill="none" stroke="#000" stroke-width="0.7" stroke-dasharray="3 2"/><path d="M217.5 275.2C217.5 273.5 217.3 267.6 217.5 264.7C217.7 261.7 217.6 259.9 218.7 257.6C219.8 255.4 221.7 253.1 224 251.2C226.2 249.3 229.1 247.7 232.2 246.5C235.3 245.3 239 244.7 242.7 244.2C246.4 243.7 250.7 243.4 254.5 243.6C258.2 243.8 262.1 244.4 265 245.3C267.9 246.3 270.1 247.9 272 249.4C274 251 275.3 253 276.7 254.7C278.2 256.5 279.9 258.3 280.8 260C281.7 261.6 281.9 262.1 282.1 264.7C282.4 267.2 282.3 273.5 282.3 275.2" fill="none" stroke="#000" stroke-width="1.35" stroke-dasharray="4 2.2"/><path d="M453.8 207.2C450.5 207.1 438.4 208 434.2 206.3C430 204.7 431.5 199.8 428.4 197.2C425.3 194.7 419 192.1 415.7 190.9C412.3 189.7 411.1 189.7 408.4 190C405.7 190.3 402 192.6 399.3 192.7C396.6 192.9 395.4 191.5 392.1 190.9C388.7 190.3 382.5 188.6 379.3 189.1C376.2 189.5 374.2 191.5 373 193.6C371.8 195.7 371.9 198.8 372.1 201.8C372.2 204.8 371.8 208.3 373.9 211.8C376 215.3 381.8 219 384.8 222.7C387.8 226.3 391.5 231.2 392.1 233.6C392.7 236 390.5 237.4 388.4 237.2C386.3 237.1 383.6 233 379.3 232.7C375.1 232.4 368.1 234.3 363 235.4C357.8 236.5 353.6 238.1 348.5 239C343.3 239.9 335 239.6 332.1 240.8C329.2 242.1 330.6 244.2 331.2 246.3C331.8 248.4 334.7 251 335.7 253.6C336.8 256.2 337.2 257.7 337.6 261.9C337.9 266.2 337.9 276.1 337.9 279" fill="none" stroke="#000" stroke-width="1.35"/><path d="M401.1 222.7C403 220.4 410.8 215.1 413.9 214.5C416.9 213.9 417.8 216.8 419.3 219C420.8 221.3 423.8 226 422.9 228.1C422 230.2 417.2 231.8 413.9 231.8C410.5 231.8 405.1 229.6 403 228.1C400.8 226.6 399.3 225 401.1 222.7Z" fill="none" stroke="#000" stroke-width="1.35"/><path d="M347.6 248.1C347.6 246.1 352.2 243.6 355.7 243.6C359.2 243.6 364.5 246.9 368.4 248.1C372.4 249.3 377.2 249.3 379.3 250.8C381.5 252.3 381.5 255.3 381.2 257.2C380.9 259 380.6 261.9 377.5 261.9C374.5 261.9 366.6 258.3 363 257.2C359.4 256.1 358.3 256.9 355.7 255.4C353.2 253.9 347.6 250.1 347.6 248.1Z" fill="none" stroke="#000" stroke-width="1.35"/><path d="M428.4 279C428.4 276.1 428.2 266.5 428.4 261.9C428.5 257.4 428.4 254 429.3 251.7C430.2 249.4 429.7 248.9 433.8 248.1C437.9 247.4 450.5 247.4 453.8 247.2" fill="none" stroke="#000" stroke-width="1.35"/><path d="M343 224.5C343.9 222.2 351.8 220.7 355.7 219C359.7 217.4 365.4 214.2 366.6 214.5C367.8 214.8 364.5 218.3 363 220.9C361.5 223.4 359.7 228 357.5 229.9C355.4 231.9 352.7 233.6 350.3 232.7C347.9 231.8 342.1 226.8 343 224.5Z" fill="none" stroke="#000" stroke-width="0.7" stroke-dasharray="3 2"/><text x="376.8" y="215.1" font-size="10.5" text-anchor="middle" transform="rotate(72 376.8 211.4)" style="paint-order:stroke;stroke:#3cfa05;stroke-width:3.6px;stroke-linejoin:round">0.00</text><text x="376.8" y="215.1" font-size="10.5" text-anchor="middle" transform="rotate(72 376.8 211.4)" style="stroke:#000;stroke-width:.15px">0.00</text><ellipse cx="397.5" cy="195.4" rx="2" ry="5" transform="rotate(-25 397.5 195.4)" fill="none" stroke="#000" stroke-width="1.35"/><path d="M384.8 206.3C386 205.7 389.6 201.8 392.1 202.7C394.5 203.6 396.3 212.1 399.3 211.8C402.3 211.5 406 202.1 410.2 200.9C414.5 199.7 421.1 201.8 424.8 204.5C428.4 207.2 430.4 213.9 432 217.2C433.6 220.6 433.8 223.3 434.2 224.5" fill="none" stroke="#000" stroke-width="0.7"/><path d="M337.6 249.9C339.4 248.7 343.6 244.5 348.5 242.7C353.3 240.8 361.2 239 366.6 239C372.1 239 375.7 241.5 381.2 242.7C386.6 243.9 395.7 246.9 399.3 246.3C403 245.7 403.3 241.8 403 239C402.7 236.3 399.9 233.6 397.5 229.9C395.1 226.3 390.5 221.2 388.4 217.2C386.3 213.3 385.4 208.1 384.8 206.3" fill="none" stroke="#000" stroke-width="0.7"/><path d="M404.8 240.8C405.4 238.7 409.3 236.9 412 237.2C414.8 237.5 420.2 240.5 421.1 242.7C422 244.8 419.6 248.7 417.5 249.9C415.4 251.1 410.5 251.4 408.4 249.9C406.3 248.4 404.2 243 404.8 240.8Z" fill="none" stroke="#000" stroke-width="0.7"/><text x="143.9" y="194.6" font-size="10.5" text-anchor="middle" transform="rotate(-33 143.9 190.9)" style="paint-order:stroke;stroke:#19fa0a;stroke-width:3.6px;stroke-linejoin:round">0.00</text><text x="143.9" y="194.6" font-size="10.5" text-anchor="middle" transform="rotate(-33 143.9 190.9)" style="stroke:#000;stroke-width:.15px">0.00</text><text x="186.3" y="195.1" font-size="10.5" text-anchor="middle" transform="rotate(42 186.3 191.4)" style="paint-order:stroke;stroke:#ebfc00;stroke-width:3.6px;stroke-linejoin:round">10.0</text><text x="186.3" y="195.1" font-size="10.5" text-anchor="middle" transform="rotate(42 186.3 191.4)" style="stroke:#000;stroke-width:.15px">10.0</text><text x="227.5" y="199.7" font-size="10.5" text-anchor="middle" transform="rotate(22 227.5 196)" style="paint-order:stroke;stroke:#ff6900;stroke-width:3.6px;stroke-linejoin:round">20.0</text><text x="227.5" y="199.7" font-size="10.5" text-anchor="middle" transform="rotate(22 227.5 196)" style="stroke:#000;stroke-width:.15px">20.0</text><text x="247.8" y="225.7" font-size="10.5" text-anchor="middle" style="paint-order:stroke;stroke:#19fa0a;stroke-width:3.6px;stroke-linejoin:round">0.00</text><text x="247.8" y="225.7" font-size="10.5" text-anchor="middle" style="stroke:#000;stroke-width:.15px">0.00</text><text x="297.6" y="239.5" font-size="10.5" text-anchor="middle" transform="rotate(12 297.6 235.8)" style="paint-order:stroke;stroke:#00f8f2;stroke-width:3.6px;stroke-linejoin:round">10.0</text><text x="297.6" y="239.5" font-size="10.5" text-anchor="middle" transform="rotate(12 297.6 235.8)" style="stroke:#000;stroke-width:.15px">10.0</text><text x="254.5" y="224.9" font-size="10.5" text-anchor="middle" style="paint-order:stroke;stroke:#19fa0a;stroke-width:3.6px;stroke-linejoin:round">0</text><text x="254.5" y="224.9" font-size="10.5" text-anchor="middle" style="stroke:#000;stroke-width:.15px">0</text>
</g>
<rect x="77.5" y="82.4" width="357.5" height="179.5" fill="none" stroke="#222" stroke-width="1.7"/>
<path d="M90.2 82.4v2.6M90.2 261.9v-2.6M104.6 82.4v5M104.6 261.9v-5M119 82.4v2.6M119 261.9v-2.6M133.4 82.4v5M133.4 261.9v-5M147.8 82.4v2.6M147.8 261.9v-2.6M162.2 82.4v5M162.2 261.9v-5M176.6 82.4v2.6M176.6 261.9v-2.6M191 82.4v5M191 261.9v-5M205.4 82.4v2.6M205.4 261.9v-2.6M219.8 82.4v5M219.8 261.9v-5M234.2 82.4v2.6M234.2 261.9v-2.6M248.6 82.4v5M248.6 261.9v-5M263 82.4v2.6M263 261.9v-2.6M277.4 82.4v5M277.4 261.9v-5M291.8 82.4v2.6M291.8 261.9v-2.6M306.2 82.4v5M306.2 261.9v-5M320.6 82.4v2.6M320.6 261.9v-2.6M335 82.4v5M335 261.9v-5M349.4 82.4v2.6M349.4 261.9v-2.6M363.8 82.4v5M363.8 261.9v-5M378.2 82.4v2.6M378.2 261.9v-2.6M392.6 82.4v5M392.6 261.9v-5M407 82.4v2.6M407 261.9v-2.6M421.4 82.4v5M421.4 261.9v-5M77.5 252.9h2.6M435 252.9h-2.6M77.5 243.9h2.6M435 243.9h-2.6M77.5 235h2.6M435 235h-2.6M77.5 226h2.6M435 226h-2.6M77.5 217h5M435 217h-5M77.5 208h2.6M435 208h-2.6M77.5 199.1h2.6M435 199.1h-2.6M77.5 190.1h2.6M435 190.1h-2.6M77.5 181.1h2.6M435 181.1h-2.6M77.5 172.1h5M435 172.1h-5M77.5 163.2h2.6M435 163.2h-2.6M77.5 154.2h2.6M435 154.2h-2.6M77.5 145.2h2.6M435 145.2h-2.6M77.5 136.2h2.6M435 136.2h-2.6M77.5 127.3h5M435 127.3h-5M77.5 118.3h2.6M435 118.3h-2.6M77.5 109.3h2.6M435 109.3h-2.6M77.5 100.3h2.6M435 100.3h-2.6M77.5 91.4h2.6M435 91.4h-2.6" stroke="#000" stroke-width="1.1" fill="none"/>
<text x="256" y="58.2" font-size="17" text-anchor="middle" textLength="110" fill="#111" class="th">zonal velocity</text>
<text x="71.2" y="220.6" font-size="10" text-anchor="end" class="tk">5</text>
<text x="71.2" y="175.7" font-size="10" text-anchor="end" class="tk">10</text>
<text x="71.2" y="130.9" font-size="10" text-anchor="end" class="tk">15</text>
<text x="105.2" y="274.6" font-size="10" text-anchor="middle" class="tk">4</text>
<text x="134" y="274.6" font-size="10" text-anchor="middle" class="tk">8</text>
<text x="162.8" y="274.6" font-size="10" text-anchor="middle" class="tk">12</text>
<text x="191.6" y="274.6" font-size="10" text-anchor="middle" class="tk">16</text>
<text x="220.4" y="274.6" font-size="10" text-anchor="middle" class="tk">20</text>
<text x="249.2" y="274.6" font-size="10" text-anchor="middle" class="tk">24</text>
<text x="278" y="274.6" font-size="10" text-anchor="middle" class="tk">28</text>
<text x="306.8" y="274.6" font-size="10" text-anchor="middle" class="tk">32</text>
<text x="335.6" y="274.6" font-size="10" text-anchor="middle" class="tk">36</text>
<text x="364.4" y="274.6" font-size="10" text-anchor="middle" class="tk">40</text>
<text x="393.2" y="274.6" font-size="10" text-anchor="middle" class="tk">44</text>
<text x="422" y="274.6" font-size="10" text-anchor="middle" class="tk">48</text>
<text x="27" y="280.9" font-size="10" textLength="54.5" class="tk">(×1000 m)</text>
<text x="388.2" y="287.2" font-size="10" textLength="54.5" class="tk">(×1000 m)</text>
<text x="213" y="303.8" font-size="14" textLength="87" fill="#111" class="th">X−coordinate</text>
<g transform="translate(52.2,172.5) rotate(-90)">
<text x="0" y="0" font-size="14" text-anchor="middle" textLength="87" fill="#111" class="th">Z−coordinate</text>
</g>
<text x="172.5" y="330" font-size="11" textLength="45.5" class="tk" lengthAdjust="spacingAndGlyphs">CONTOUR</text>
<text x="223.3" y="330" font-size="11" textLength="43" class="tk" lengthAdjust="spacingAndGlyphs">INTERVAL</text>
<text x="272.5" y="330" font-size="11" textLength="6.2" class="tk" lengthAdjust="spacingAndGlyphs">=</text>
<text x="286.3" y="330" font-size="11" textLength="53" class="tk" lengthAdjust="spacingAndGlyphs">5.000E+00</text>
<text x="359.5" y="344.6" font-size="10" textLength="54.7" fill="#606060">t=723000 s</text>
<rect x="178.2" y="338.6" width="155" height="10.6" fill="url(#cbar)"/>
<rect x="178.2" y="338.6" width="155" height="10.6" fill="url(#cstripe)"/>
<rect x="178.4" y="338.7" width="154.8" height="10.5" fill="none" stroke="#000" stroke-width="1.5"/>
<text x="194" y="360.2" font-size="10" text-anchor="middle" class="tk">−32</text>
<text x="225" y="360.2" font-size="10" text-anchor="middle" class="tk">−16</text>
<text x="256" y="360.2" font-size="10" text-anchor="middle" class="tk">0</text>
<text x="286.5" y="360.2" font-size="10" text-anchor="middle" class="tk">16</text>
<text x="318" y="360.2" font-size="10" text-anchor="middle" class="tk">32</text>
<text x="14.2" y="369" font-size="5.4" textLength="45" fill="#222">/usr/bin/gpview</text>
<text x="65.5" y="369" font-size="5.4" textLength="35" fill="#222">2008−12−21</text>
<text x="482.2" y="369" font-size="5.4" text-anchor="end" textLength="154" fill="#222">MarsCond_VelX.nc@VelX,x=0:50000,z=0:20000,t=723000</text>
</g>
<g transform="translate(512,370)">
<g clip-path="url(#pc)">
<g filter="url(#b4)"><rect x="40" y="45" width="435" height="255" fill="#19fa0a"/><path d="M93.1 69.1C93.1 71.4 93.2 78.8 93.1 82.7C92.9 86.7 92.9 89.5 92.2 92.7C91.4 95.9 88.5 97.9 88.5 101.8C88.5 105.7 91.3 112.4 92.2 116.3C93.1 120.3 93.8 121.5 94 125.4C94.1 129.3 93.7 135.4 93.1 139.9C92.5 144.5 90.9 148.4 90.3 152.7C89.8 156.9 89.7 160.7 90 165.4C90.3 170.1 91.5 176.5 92.2 180.9C92.8 185.3 93.8 186 94 191.8C94.1 197.6 93.4 206.9 93.1 215.4C92.8 223.9 93.5 234.9 92.2 242.7C90.8 250.4 86.6 255.9 84.9 261.9C83.2 268 82.6 276.1 82.2 279L50 290L50 55Z" fill="#0afa2d"/><path d="M59.5 186.3C62.5 187 73.7 187.3 77.6 190C81.6 192.7 82.3 196.9 83.1 202.7C83.8 208.4 83.1 217.2 82.2 224.5C81.3 231.8 81.4 242.1 77.6 246.3C73.8 250.5 62.5 249.3 59.5 249.9Z" fill="#00fa82"/><path d="M260.4 69.1C260.4 71.4 260.2 77.9 260.4 82.7C260.5 87.6 261.4 91.7 261.3 98.2C261.1 104.7 260.4 116 259.4 121.8C258.5 127.5 256.9 129.3 255.8 132.7C254.7 136 253.9 138.7 252.9 141.8C252 144.8 250.6 146.9 250.2 150.8C249.8 154.8 250.4 160.7 250.6 165.4C250.7 170.1 251.5 173.8 251.1 179.1C250.7 184.4 249.1 188.2 248.4 197.2C247.6 206.3 247.2 222.8 246.6 233.6C246 244.4 245.1 254.3 244.8 261.9C244.4 269.5 244.5 276.1 244.4 279L465 290L465 55Z" fill="#0ffa28"/><path d="M264.9 165.4C265.2 162.8 263.7 163 264.9 158.1C266.1 153.3 268.5 142.4 272.2 136.3C275.8 130.3 284 125.4 286.7 121.8C289.4 118.1 287 116.8 288.5 114.5C290 112.2 292.8 108.2 295.8 108.2C298.8 108.2 302.4 111.8 306.7 114.5C310.9 117.2 317.9 123.9 321.2 124.5C324.5 125.1 325.1 120.3 326.7 118.1C328.2 116 327.6 111.8 330.3 111.8C333 111.8 340 118.1 343 118.1C346 118.1 346.3 112.4 348.5 111.8C350.6 111.2 353 115.4 355.7 114.5C358.5 113.6 361.8 106.5 364.8 106.3C367.8 106.2 370.6 113.8 373.9 113.6C377.2 113.5 381.2 107.2 384.8 105.4C388.4 103.6 392.1 102.7 395.7 102.7C399.3 102.7 403.3 103.5 406.6 105.4C409.9 107.4 414.2 110.3 415.7 114.5C417.2 118.8 414.2 126.6 415.7 130.9C417.2 135.1 421.9 136 424.8 139.9C427.6 143.9 431.1 150.2 432.9 154.5C434.7 158.7 435.5 161 435.7 165.4C435.8 169.8 436.9 176.8 433.8 180.9C430.8 185 422.3 187.6 417.5 190C412.6 192.4 409 194.2 404.8 195.4C400.5 196.6 396 197.6 392.1 197.2C388.1 196.9 384.8 193.6 381.2 193.6C377.5 193.6 372.7 195.1 370.3 197.2C367.8 199.4 367.8 200.9 366.6 206.3C365.4 211.8 364.8 224.2 363 229.9C361.2 235.7 359.1 237.2 355.7 240.8C352.4 244.5 346.9 249.3 343 251.7C339.1 254.2 335.7 255.4 332.1 255.4C328.5 255.4 325.1 253.3 321.2 251.7C317.3 250.2 312.7 246.6 308.5 246.3C304.3 246 300.9 249.5 295.8 249.9C290.6 250.4 282.8 249.6 277.6 249C272.5 248.4 268.2 248 264.9 246.3C261.6 244.6 259 244.2 257.6 239C256.3 233.9 256.4 223.9 256.7 215.4C257 206.9 258.4 195.1 259.4 188.2C260.5 181.2 262.2 177.4 263.1 173.6C264 169.8 264.6 168 264.9 165.4Z" fill="#00fa8c"/><path d="M279.4 167.2C279.1 164.9 277.3 165.1 278.5 163.6C279.7 162 284.1 159.6 286.7 158.1C289.3 156.6 292.1 156.3 294 154.5C295.8 152.7 295.2 148.3 297.6 147.2C300 146.2 305.8 150.1 308.5 148.1C311.2 146.2 311.8 135.6 313.9 135.4C316.1 135.3 318.2 142.4 321.2 147.2C324.2 152.1 329.4 163.3 332.1 164.5C334.8 165.7 335.4 154.3 337.6 154.5C339.7 154.6 343.4 162.7 344.8 165.4C346.3 168.1 346.1 168.8 346.3 170.8C346.4 172.8 346 174.4 345.7 177.3C345.5 180.2 345.4 183.3 344.8 188.2C344.2 193 342.4 200.3 342.1 206.3C341.8 212.4 342.9 218.4 343 224.5C343.2 230.6 344.2 238.4 343 242.7C341.8 246.9 337.9 249.3 335.7 249.9C333.6 250.5 332.4 248.1 330.3 246.3C328.2 244.5 325.1 239.3 323 239C320.9 238.7 319.4 244.5 317.6 244.5C315.8 244.5 314.2 241.8 312.1 239C310 236.3 307.3 230.1 304.9 228.1C302.4 226.2 300.3 226.3 297.6 227.2C294.9 228.1 291.8 231.6 288.5 233.6C285.2 235.5 280.6 238.7 277.6 239C274.6 239.3 272.3 237.8 270.3 235.4C268.4 233 266.3 229.3 265.8 224.5C265.4 219.7 265.8 212.7 267.6 206.3C269.4 200 274.6 191.2 276.7 186.3C278.8 181.5 279.9 180.5 280.3 177.3C280.8 174.1 279.7 169.5 279.4 167.2Z" fill="#00f5eb"/><path d="M293.1 178.2C293.4 174.8 296.8 181.8 299.4 182.7C302 183.6 305.5 184.2 308.5 183.6C311.5 183 315.5 181.1 317.6 179.1C319.7 177.1 319.7 171.5 321.2 171.8C322.7 172.1 324.8 177 326.7 180.9C328.5 184.8 330 194.4 332.1 195.4C334.2 196.5 337.9 185.4 339.4 187.3C340.9 189.1 341.2 199.5 341.2 206.3C341.2 213.1 340.3 222.1 339.4 228.1C338.5 234.2 337.3 240.8 335.7 242.7C334.2 244.5 332.4 241.8 330.3 239C328.2 236.3 325.1 227.5 323 226.3C320.9 225.1 319.1 234.2 317.6 231.8C316.1 229.3 316.1 215.7 313.9 211.8C311.8 207.8 307.6 209.7 304.9 208.1C302.1 206.6 299.6 207.7 297.6 202.7C295.6 197.7 292.8 181.5 293.1 178.2Z" fill="#1ec3ff"/><path d="M319.4 180.9C320.3 178.5 323.9 188.8 326.7 191.8C329.4 194.8 333.9 193.6 335.7 199.1C337.6 204.5 337.9 218.1 337.6 224.5C337.3 230.9 335.7 237.2 333.9 237.2C332.1 237.2 328.8 229.6 326.7 224.5C324.5 219.3 322.4 213.6 321.2 206.3C320 199.1 318.5 183.3 319.4 180.9Z" fill="#0aa5ff"/><path d="M385.7 128.1C388.1 127.5 391.1 134 392.1 138.1C393 142.2 392.4 148.1 391.1 152.7C389.9 157.2 387.1 161.9 384.8 165.4C382.5 168.9 379.9 173.6 377.5 173.6C375.1 173.6 371.6 168.3 370.3 165.4C368.9 162.5 368.1 160.2 369.3 156.3C370.6 152.4 374.8 146.5 377.5 141.8C380.2 137.1 383.3 128.7 385.7 128.1Z" fill="#00f5eb"/><path d="M447.7 201.7C444.1 201.9 431 201.5 425.8 202.5C420.5 203.6 418.3 203.7 416.4 208C414.5 212.3 414.7 222.4 414.5 228.4C414.3 234.4 414.3 240.1 415.1 244C416 248 414.1 250.3 419.5 251.9C424.9 253.5 443 253.4 447.7 253.8Z" fill="#00fa96"/><path d="M417.9 209.6C418.9 206.2 420.3 207.5 422.6 208C425 208.5 430.2 209.3 432 212.7C433.9 216.1 433.9 223.1 433.9 228.4C433.9 233.6 433.4 240.8 432 244C430.7 247.3 427.9 248 425.8 248C423.7 248 420.9 247.3 419.5 244C418.1 240.8 417.4 234.1 417.2 228.4C416.9 222.6 417 213 417.9 209.6Z" fill="#00f8f2"/><path d="M421.1 219C422.2 217.7 425.9 218.4 427.3 220.5C428.8 222.6 429.7 227.8 429.7 231.5C429.7 235.2 428.5 240.9 427.3 242.5C426.2 244 423.8 243.3 422.6 240.9C421.5 238.6 420.5 232 420.3 228.4C420 224.7 419.9 220.3 421.1 219Z" fill="#0aa5ff"/><path d="M336.4 181.3C337.3 173.2 340.9 180.8 341.9 186.1C343 191.3 343.1 205.1 342.7 212.7C342.3 220.3 340.6 227.8 339.6 231.5C338.5 235.2 337 243 336.4 234.6C335.9 226.3 335.5 189.4 336.4 181.3Z" fill="#00ebfa"/><path d="M104 156.3C105.5 150.4 109 146 112.1 139.9C115.3 133.9 119.1 125.7 123 120C127 114.2 130.9 108.9 135.8 105.4C140.6 101.9 146.1 100 152.1 99.1C158.2 98.2 165.7 98.6 172.1 100C178.5 101.3 184.8 104.8 190.3 107.2C195.7 109.7 199.3 112.5 204.8 114.5C210.2 116.5 218.4 116.9 223 119.1C227.5 121.2 230.1 123.1 232 127.2C234 131.3 234.2 137.8 234.8 143.6C235.4 149.3 235.1 155.5 235.7 161.7C236.3 168 237.8 175 238.4 180.9C239 186.8 239.5 190.6 239.3 197.2C239.2 203.9 238.4 214.2 237.5 220.9C236.6 227.5 236 233 233.9 237.2C231.7 241.5 228.7 243.6 224.8 246.3C220.8 249 215.7 252.2 210.2 253.6C204.8 254.9 196.6 255.1 192.1 254.5C187.5 253.9 185.7 250.4 183 249.9C180.3 249.5 178.8 251.1 175.7 251.7C172.7 252.3 167.2 255.1 164.8 253.6C162.4 252 162.1 243.3 161.2 242.7C160.3 242.1 161.2 248.4 159.4 249.9C157.6 251.4 152.7 253 150.3 251.7C147.9 250.5 146.4 242.4 144.8 242.7C143.3 243 142.7 252.3 141.2 253.6C139.7 254.8 138.2 251.7 135.8 249.9C133.3 248.1 129.7 244.8 126.7 242.7C123.7 240.5 120 243.3 117.6 237.2C115.2 231.2 114.3 214.5 112.1 206.3C110 198.2 106.4 193.3 104.9 188.2C103.4 183 103.2 180.8 103.1 175.4C102.9 170.1 102.5 162.2 104 156.3Z" fill="#7dfa00"/><path d="M124 158.1C125 152.8 127.1 149.6 130.3 145.4C133.5 141.2 140 136.6 143 132.7C146.1 128.7 146.1 124.5 148.5 121.8C150.9 119.1 154.2 116.8 157.6 116.3C160.9 115.9 165.1 116.9 168.5 119.1C171.8 121.2 174.5 126 177.5 129C180.6 132.1 183.3 136.3 186.6 137.2C190 138.1 194.2 135.3 197.5 134.5C200.9 133.7 203.6 132.1 206.6 132.7C209.6 133.3 213.6 135.4 215.7 138.1C217.8 140.9 218.9 145.1 219.3 149C219.8 153 217.7 157 218.4 161.7C219.2 166.5 222.2 172 223.9 177.3C225.5 182.6 227.5 188.2 228.4 193.6C229.3 199.1 229.9 204.8 229.3 210C228.7 215.1 226.4 220 224.8 224.5C223.1 229 222.7 234.2 219.3 237.2C216 240.2 209.6 241.5 204.8 242.7C199.9 243.9 193.6 245.4 190.3 244.5C186.9 243.6 187.2 237.8 184.8 237.2C182.4 236.6 178.8 239.6 175.7 240.8C172.7 242.1 169.1 245.7 166.6 244.5C164.2 243.3 162.7 237.2 161.2 233.6C159.7 229.9 158.8 222.1 157.6 222.7C156.3 223.3 156.7 236.6 153.9 237.2C151.2 237.8 144.1 225.7 141.2 226.3C138.3 226.9 138.8 239.9 136.7 240.8C134.6 241.8 131.1 235.4 128.5 231.8C125.9 228.1 122.7 223 121.2 219C119.7 215.1 119.2 212.7 119.4 208.1C119.7 203.6 121.9 196.9 122.7 191.8C123.4 186.7 123.7 182.9 124 177.3C124.2 171.7 122.9 163.4 124 158.1Z" fill="#d7fc00"/><path d="M140.3 167.2C141.8 165.1 144.4 163 146.7 162.7C148.9 162.3 152 163.7 153.9 165.4C155.9 167 157.6 170.7 158.5 172.6C159.4 174.6 159.5 173.8 159.4 177.3C159.2 180.8 158.8 187.6 157.6 193.6C156.3 199.7 154.5 212.7 152.1 213.6C149.7 214.5 145.5 203.9 143 199.1C140.6 194.2 138.4 188.5 137.6 184.5C136.7 180.6 137.5 178.3 137.9 175.4C138.4 172.6 138.9 169.3 140.3 167.2Z" fill="#ffe100"/><path d="M176.6 161.7C177.7 157.5 176.8 150.8 178.5 149.9C180.1 149 182.8 156.1 186.6 156.3C190.4 156.4 198.1 151.1 201.2 150.8C204.2 150.5 204.5 152.1 204.8 154.5C205.1 156.9 203.7 161.9 203 165.4C202.2 168.9 199.3 171.3 200.2 175.4C201.2 179.6 206.2 185.4 208.4 190C210.7 194.5 213.3 198.5 213.9 202.7C214.5 206.9 214.2 211.2 212.1 215.4C209.9 219.7 204.2 225.3 201.2 228.1C198.1 231 195.7 233.3 193.9 232.7C192.1 232.1 191.5 226.8 190.3 224.5C189 222.2 188.7 219 186.6 219C184.5 219 180.9 222.4 177.5 224.5C174.2 226.6 169.1 231.8 166.6 231.8C164.2 231.8 163.8 228.7 163 224.5C162.3 220.3 161.8 212.1 162.1 206.3C162.4 200.6 163.2 195.1 164.8 190C166.5 184.8 170.1 180.2 172.1 175.4C174.1 170.7 175.6 166 176.6 161.7Z" fill="#ffe100"/><path d="M147.6 183.6C147.6 181.8 148.6 180.7 149.4 180.9C150.1 181.1 151.7 182.4 152.1 184.5C152.6 186.7 152.6 192.4 152.1 193.6C151.7 194.8 150.1 193.5 149.4 191.8C148.6 190.1 147.6 185.4 147.6 183.6Z" fill="#ffa000"/><path d="M168.5 203.6C169.4 200.7 173.3 192.7 175.7 188.2C178.1 183.6 181.5 178 183 176.4C184.5 174.7 185.4 175.6 184.8 178.2C184.2 180.7 181.8 187.3 179.4 191.8C176.9 196.3 172.1 203.5 170.3 205.4C168.5 207.4 167.6 206.5 168.5 203.6Z" fill="#ffa000"/><path d="M146.7 173.6C148 171.2 152.6 173.6 153.9 177.3C155.3 180.9 155.4 191.2 154.8 195.4C154.2 199.7 151.8 203.3 150.3 202.7C148.8 202.1 146.4 196.6 145.8 191.8C145.1 187 145.3 176.1 146.7 173.6Z" fill="#ffb900"/><path d="M175.7 177.3C179.7 173.6 187.8 171.2 190.3 173.6C192.7 176.1 192.7 185.1 190.3 191.8C187.8 198.5 180 209.7 175.7 213.6C171.5 217.5 166.3 218.4 164.8 215.4C163.3 212.4 164.8 201.8 166.6 195.4C168.5 189.1 171.8 180.9 175.7 177.3Z" fill="#ffb900"/><path d="M367 275.4C367 273.1 367 269.7 367 261.9C367 254.1 366.7 237.1 367 228.4C367.3 219.6 367.9 213.5 368.6 209.6C369.2 205.6 370.1 204.3 370.9 204.9C371.7 205.4 371.7 211.4 373.3 212.7C374.8 214 378.6 213.2 380.3 212.7C382 212.2 382.4 208.3 383.5 209.6C384.5 210.9 385.3 216.9 386.6 220.5C387.9 224.2 389.6 229.4 391.3 231.5C393 233.6 395.6 236.2 396.8 233.1C398 229.9 397.2 217.1 398.3 212.7C399.5 208.3 402.1 206.9 403.8 206.4C405.5 205.9 407.4 206.4 408.5 209.6C409.7 212.7 410.4 219.5 410.9 225.2C411.4 231 411.7 237.9 411.7 244C411.7 250.2 411 256.7 410.9 261.9C410.8 267.1 410.9 273.1 410.9 275.4Z" fill="#46fa05"/><path d="M399.1 239.3C400 238.6 401.2 240.6 401.5 242.5C401.7 244.3 401.2 248.7 400.7 250.3C400.2 251.9 399.1 252.4 398.3 251.9C397.6 251.4 396.2 249.3 396.3 247.2C396.4 245.1 398.3 240.1 399.1 239.3Z" fill="#8cfa00"/><path d="M403.8 223.7C404.2 221.6 405.1 222.9 405.1 225.2C405.1 227.6 404.2 235.7 403.8 237.8C403.4 239.9 402.6 240.1 402.6 237.8C402.6 235.4 403.4 225.8 403.8 223.7Z" fill="#8cfa00"/></g><path d="M93.1 69.1C93.1 71.4 93.2 78.8 93.1 82.7C92.9 86.7 92.9 89.5 92.2 92.7C91.4 95.9 88.5 97.9 88.5 101.8C88.5 105.7 91.3 112.4 92.2 116.3C93.1 120.3 93.8 121.5 94 125.4C94.1 129.3 93.7 135.4 93.1 139.9C92.5 144.5 90.9 148.4 90.3 152.7C89.8 156.9 89.7 160.7 90 165.4C90.3 170.1 91.5 176.5 92.2 180.9C92.8 185.3 93.8 186 94 191.8C94.1 197.6 93.4 206.9 93.1 215.4C92.8 223.9 93.5 234.9 92.2 242.7C90.8 250.4 86.6 255.9 84.9 261.9C83.2 268 82.6 276.1 82.2 279" fill="none" stroke="#000" stroke-width="1.35"/><path d="M59.5 186.3C62.5 187 73.7 187.3 77.6 190C81.6 192.7 82.3 196.9 83.1 202.7C83.8 208.4 83.1 217.2 82.2 224.5C81.3 231.8 81.4 242.1 77.6 246.3C73.8 250.5 62.5 249.3 59.5 249.9" fill="none" stroke="#000" stroke-width="0.7" stroke-dasharray="3 2"/><path d="M260.4 69.1C260.4 71.4 260.2 77.9 260.4 82.7C260.5 87.6 261.4 91.7 261.3 98.2C261.1 104.7 260.4 116 259.4 121.8C258.5 127.5 256.9 129.3 255.8 132.7C254.7 136 253.9 138.7 252.9 141.8C252 144.8 250.6 146.9 250.2 150.8C249.8 154.8 250.4 160.7 250.6 165.4C250.7 170.1 251.5 173.8 251.1 179.1C250.7 184.4 249.1 188.2 248.4 197.2C247.6 206.3 247.2 222.8 246.6 233.6C246 244.4 245.1 254.3 244.8 261.9C244.4 269.5 244.5 276.1 244.4 279" fill="none" stroke="#000" stroke-width="1.35"/><path d="M279.4 167.2C279.1 164.9 277.3 165.1 278.5 163.6C279.7 162 284.1 159.6 286.7 158.1C289.3 156.6 292.1 156.3 294 154.5C295.8 152.7 295.2 148.3 297.6 147.2C300 146.2 305.8 150.1 308.5 148.1C311.2 146.2 311.8 135.6 313.9 135.4C316.1 135.3 318.2 142.4 321.2 147.2C324.2 152.1 329.4 163.3 332.1 164.5C334.8 165.7 335.4 154.3 337.6 154.5C339.7 154.6 343.4 162.7 344.8 165.4C346.3 168.1 346.1 168.8 346.3 170.8C346.4 172.8 346 174.4 345.7 177.3C345.5 180.2 345.4 183.3 344.8 188.2C344.2 193 342.4 200.3 342.1 206.3C341.8 212.4 342.9 218.4 343 224.5C343.2 230.6 344.2 238.4 343 242.7C341.8 246.9 337.9 249.3 335.7 249.9C333.6 250.5 332.4 248.1 330.3 246.3C328.2 244.5 325.1 239.3 323 239C320.9 238.7 319.4 244.5 317.6 244.5C315.8 244.5 314.2 241.8 312.1 239C310 236.3 307.3 230.1 304.9 228.1C302.4 226.2 300.3 226.3 297.6 227.2C294.9 228.1 291.8 231.6 288.5 233.6C285.2 235.5 280.6 238.7 277.6 239C274.6 239.3 272.3 237.8 270.3 235.4C268.4 233 266.3 229.3 265.8 224.5C265.4 219.7 265.8 212.7 267.6 206.3C269.4 200 274.6 191.2 276.7 186.3C278.8 181.5 279.9 180.5 280.3 177.3C280.8 174.1 279.7 169.5 279.4 167.2Z" fill="none" stroke="#000" stroke-width="1.35" stroke-dasharray="4 2.2"/><path d="M293.1 178.2C293.4 174.8 296.8 181.8 299.4 182.7C302 183.6 305.5 184.2 308.5 183.6C311.5 183 315.5 181.1 317.6 179.1C319.7 177.1 319.7 171.5 321.2 171.8C322.7 172.1 324.8 177 326.7 180.9C328.5 184.8 330 194.4 332.1 195.4C334.2 196.5 337.9 185.4 339.4 187.3C340.9 189.1 341.2 199.5 341.2 206.3C341.2 213.1 340.3 222.1 339.4 228.1C338.5 234.2 337.3 240.8 335.7 242.7C334.2 244.5 332.4 241.8 330.3 239C328.2 236.3 325.1 227.5 323 226.3C320.9 225.1 319.1 234.2 317.6 231.8C316.1 229.3 316.1 215.7 313.9 211.8C311.8 207.8 307.6 209.7 304.9 208.1C302.1 206.6 299.6 207.7 297.6 202.7C295.6 197.7 292.8 181.5 293.1 178.2Z" fill="none" stroke="#000" stroke-width="0.7" stroke-dasharray="3 2"/><path d="M385.7 128.1C388.1 127.5 391.1 134 392.1 138.1C393 142.2 392.4 148.1 391.1 152.7C389.9 157.2 387.1 161.9 384.8 165.4C382.5 168.9 379.9 173.6 377.5 173.6C375.1 173.6 371.6 168.3 370.3 165.4C368.9 162.5 368.1 160.2 369.3 156.3C370.6 152.4 374.8 146.5 377.5 141.8C380.2 137.1 383.3 128.7 385.7 128.1Z" fill="none" stroke="#000" stroke-width="1.35" stroke-dasharray="4 2.2"/><path d="M417.9 209.6C418.9 206.2 420.3 207.5 422.6 208C425 208.5 430.2 209.3 432 212.7C433.9 216.1 433.9 223.1 433.9 228.4C433.9 233.6 433.4 240.8 432 244C430.7 247.3 427.9 248 425.8 248C423.7 248 420.9 247.3 419.5 244C418.1 240.8 417.4 234.1 417.2 228.4C416.9 222.6 417 213 417.9 209.6Z" fill="none" stroke="#000" stroke-width="1.35" stroke-dasharray="4 2.2"/><path d="M421.1 219C422.2 217.7 425.9 218.4 427.3 220.5C428.8 222.6 429.7 227.8 429.7 231.5C429.7 235.2 428.5 240.9 427.3 242.5C426.2 244 423.8 243.3 422.6 240.9C421.5 238.6 420.5 232 420.3 228.4C420 224.7 419.9 220.3 421.1 219Z" fill="none" stroke="#000" stroke-width="0.7" stroke-dasharray="3 2"/><path d="M104 156.3C105.5 150.4 109 146 112.1 139.9C115.3 133.9 119.1 125.7 123 120C127 114.2 130.9 108.9 135.8 105.4C140.6 101.9 146.1 100 152.1 99.1C158.2 98.2 165.7 98.6 172.1 100C178.5 101.3 184.8 104.8 190.3 107.2C195.7 109.7 199.3 112.5 204.8 114.5C210.2 116.5 218.4 116.9 223 119.1C227.5 121.2 230.1 123.1 232 127.2C234 131.3 234.2 137.8 234.8 143.6C235.4 149.3 235.1 155.5 235.7 161.7C236.3 168 237.8 175 238.4 180.9C239 186.8 239.5 190.6 239.3 197.2C239.2 203.9 238.4 214.2 237.5 220.9C236.6 227.5 236 233 233.9 237.2C231.7 241.5 228.7 243.6 224.8 246.3C220.8 249 215.7 252.2 210.2 253.6C204.8 254.9 196.6 255.1 192.1 254.5C187.5 253.9 185.7 250.4 183 249.9C180.3 249.5 178.8 251.1 175.7 251.7C172.7 252.3 167.2 255.1 164.8 253.6C162.4 252 162.1 243.3 161.2 242.7C160.3 242.1 161.2 248.4 159.4 249.9C157.6 251.4 152.7 253 150.3 251.7C147.9 250.5 146.4 242.4 144.8 242.7C143.3 243 142.7 252.3 141.2 253.6C139.7 254.8 138.2 251.7 135.8 249.9C133.3 248.1 129.7 244.8 126.7 242.7C123.7 240.5 120 243.3 117.6 237.2C115.2 231.2 114.3 214.5 112.1 206.3C110 198.2 106.4 193.3 104.9 188.2C103.4 183 103.2 180.8 103.1 175.4C102.9 170.1 102.5 162.2 104 156.3Z" fill="none" stroke="#000" stroke-width="0.7"/><path d="M124 158.1C125 152.8 127.1 149.6 130.3 145.4C133.5 141.2 140 136.6 143 132.7C146.1 128.7 146.1 124.5 148.5 121.8C150.9 119.1 154.2 116.8 157.6 116.3C160.9 115.9 165.1 116.9 168.5 119.1C171.8 121.2 174.5 126 177.5 129C180.6 132.1 183.3 136.3 186.6 137.2C190 138.1 194.2 135.3 197.5 134.5C200.9 133.7 203.6 132.1 206.6 132.7C209.6 133.3 213.6 135.4 215.7 138.1C217.8 140.9 218.9 145.1 219.3 149C219.8 153 217.7 157 218.4 161.7C219.2 166.5 222.2 172 223.9 177.3C225.5 182.6 227.5 188.2 228.4 193.6C229.3 199.1 229.9 204.8 229.3 210C228.7 215.1 226.4 220 224.8 224.5C223.1 229 222.7 234.2 219.3 237.2C216 240.2 209.6 241.5 204.8 242.7C199.9 243.9 193.6 245.4 190.3 244.5C186.9 243.6 187.2 237.8 184.8 237.2C182.4 236.6 178.8 239.6 175.7 240.8C172.7 242.1 169.1 245.7 166.6 244.5C164.2 243.3 162.7 237.2 161.2 233.6C159.7 229.9 158.8 222.1 157.6 222.7C156.3 223.3 156.7 236.6 153.9 237.2C151.2 237.8 144.1 225.7 141.2 226.3C138.3 226.9 138.8 239.9 136.7 240.8C134.6 241.8 131.1 235.4 128.5 231.8C125.9 228.1 122.7 223 121.2 219C119.7 215.1 119.2 212.7 119.4 208.1C119.7 203.6 121.9 196.9 122.7 191.8C123.4 186.7 123.7 182.9 124 177.3C124.2 171.7 122.9 163.4 124 158.1Z" fill="none" stroke="#000" stroke-width="1.35"/><path d="M140.3 167.2C141.8 165.1 144.4 163 146.7 162.7C148.9 162.3 152 163.7 153.9 165.4C155.9 167 157.6 170.7 158.5 172.6C159.4 174.6 159.5 173.8 159.4 177.3C159.2 180.8 158.8 187.6 157.6 193.6C156.3 199.7 154.5 212.7 152.1 213.6C149.7 214.5 145.5 203.9 143 199.1C140.6 194.2 138.4 188.5 137.6 184.5C136.7 180.6 137.5 178.3 137.9 175.4C138.4 172.6 138.9 169.3 140.3 167.2Z" fill="none" stroke="#000" stroke-width="0.7"/><path d="M176.6 161.7C177.7 157.5 176.8 150.8 178.5 149.9C180.1 149 182.8 156.1 186.6 156.3C190.4 156.4 198.1 151.1 201.2 150.8C204.2 150.5 204.5 152.1 204.8 154.5C205.1 156.9 203.7 161.9 203 165.4C202.2 168.9 199.3 171.3 200.2 175.4C201.2 179.6 206.2 185.4 208.4 190C210.7 194.5 213.3 198.5 213.9 202.7C214.5 206.9 214.2 211.2 212.1 215.4C209.9 219.7 204.2 225.3 201.2 228.1C198.1 231 195.7 233.3 193.9 232.7C192.1 232.1 191.5 226.8 190.3 224.5C189 222.2 188.7 219 186.6 219C184.5 219 180.9 222.4 177.5 224.5C174.2 226.6 169.1 231.8 166.6 231.8C164.2 231.8 163.8 228.7 163 224.5C162.3 220.3 161.8 212.1 162.1 206.3C162.4 200.6 163.2 195.1 164.8 190C166.5 184.8 170.1 180.2 172.1 175.4C174.1 170.7 175.6 166 176.6 161.7Z" fill="none" stroke="#000" stroke-width="0.7"/><path d="M147.6 183.6C147.6 181.8 148.6 180.7 149.4 180.9C150.1 181.1 151.7 182.4 152.1 184.5C152.6 186.7 152.6 192.4 152.1 193.6C151.7 194.8 150.1 193.5 149.4 191.8C148.6 190.1 147.6 185.4 147.6 183.6Z" fill="none" stroke="#000" stroke-width="1.35"/><path d="M168.5 203.6C169.4 200.7 173.3 192.7 175.7 188.2C178.1 183.6 181.5 178 183 176.4C184.5 174.7 185.4 175.6 184.8 178.2C184.2 180.7 181.8 187.3 179.4 191.8C176.9 196.3 172.1 203.5 170.3 205.4C168.5 207.4 167.6 206.5 168.5 203.6Z" fill="none" stroke="#000" stroke-width="1.35"/><path d="M367 275.4C367 273.1 367 269.7 367 261.9C367 254.1 366.7 237.1 367 228.4C367.3 219.6 367.9 213.5 368.6 209.6C369.2 205.6 370.1 204.3 370.9 204.9C371.7 205.4 371.7 211.4 373.3 212.7C374.8 214 378.6 213.2 380.3 212.7C382 212.2 382.4 208.3 383.5 209.6C384.5 210.9 385.3 216.9 386.6 220.5C387.9 224.2 389.6 229.4 391.3 231.5C393 233.6 395.6 236.2 396.8 233.1C398 229.9 397.2 217.1 398.3 212.7C399.5 208.3 402.1 206.9 403.8 206.4C405.5 205.9 407.4 206.4 408.5 209.6C409.7 212.7 410.4 219.5 410.9 225.2C411.4 231 411.7 237.9 411.7 244C411.7 250.2 411 256.7 410.9 261.9C410.8 267.1 410.9 273.1 410.9 275.4" fill="none" stroke="#000" stroke-width="1.35"/><path d="M399.1 239.3C400 238.6 401.2 240.6 401.5 242.5C401.7 244.3 401.2 248.7 400.7 250.3C400.2 251.9 399.1 252.4 398.3 251.9C397.6 251.4 396.2 249.3 396.3 247.2C396.4 245.1 398.3 240.1 399.1 239.3Z" fill="none" stroke="#000" stroke-width="0.7"/><path d="M403.8 223.7C404.2 221.6 405.1 222.9 405.1 225.2C405.1 227.6 404.2 235.7 403.8 237.8C403.4 239.9 402.6 240.1 402.6 237.8C402.6 235.4 403.4 225.8 403.8 223.7Z" fill="none" stroke="#000" stroke-width="0.7"/><path d="M264.9 176.1C264.9 173.1 263.7 164.7 264.9 158.1C266.1 151.5 268.5 142.4 272.2 136.3C275.8 130.3 284 125.4 286.7 121.8C289.4 118.1 287 116.8 288.5 114.5C290 112.2 292.8 108.2 295.8 108.2C298.8 108.2 302.4 111.8 306.7 114.5C310.9 117.2 317.9 123.9 321.2 124.5C324.5 125.1 325.1 120.3 326.7 118.1C328.2 116 327.6 111.8 330.3 111.8C333 111.8 340 118.1 343 118.1C346 118.1 346.3 112.4 348.5 111.8C350.6 111.2 353 115.4 355.7 114.5C358.5 113.6 361.8 106.5 364.8 106.3C367.8 106.2 370.6 113.8 373.9 113.6C377.2 113.5 381.2 107.2 384.8 105.4C388.4 103.6 392.1 102.7 395.7 102.7C399.3 102.7 403.3 103.5 406.6 105.4C409.9 107.4 414.2 110.3 415.7 114.5C417.2 118.8 414.2 126.6 415.7 130.9C417.2 135.1 421.9 136 424.8 139.9C427.6 143.9 431.6 152.1 432.9 154.5" fill="none" stroke="#000" stroke-width="0.7" stroke-dasharray="3 2"/><path d="M264.9 170C264 173 260.8 180.6 259.4 188.2C258.1 195.7 257 206.9 256.7 215.4C256.4 223.9 256.3 233.9 257.6 239C259 244.2 261.6 244.6 264.9 246.3C268.2 248 272.5 248.4 277.6 249C282.8 249.6 290.6 250.4 295.8 249.9C300.9 249.5 304.3 246 308.5 246.3C312.7 246.6 317.3 250.2 321.2 251.7C325.1 253.3 328.5 255.4 332.1 255.4C335.7 255.4 339.1 254.2 343 251.7C346.9 249.3 352.4 244.5 355.7 240.8C359.1 237.2 361.2 235.7 363 229.9C364.8 224.2 365.4 211.8 366.6 206.3C367.8 200.9 369.7 198.8 370.3 197.2" fill="none" stroke="#000" stroke-width="0.7" stroke-dasharray="3 2"/><path d="M367.8 198.6C368.4 198.3 369.9 196.2 371.7 197C373.5 197.8 376.5 201.5 378.8 203.3C381 205.1 384 207.2 385 208" fill="none" stroke="#000" stroke-width="0.7" stroke-dasharray="3 2"/><path d="M398.3 201.7C399.3 200.8 401.9 196.5 403.8 196.2C405.8 196 408.5 197.4 410.1 200.2C411.7 202.9 412.5 205.4 413.2 212.7C414 220 413.8 237.5 414.8 244C415.8 250.6 416.4 250.3 419.5 251.9C422.6 253.4 431.3 253.2 433.6 253.4" fill="none" stroke="#000" stroke-width="0.7" stroke-dasharray="3 2"/><path d="M378 261.9C378.6 259.5 380.7 250.2 381.9 247.2C383.1 244.2 383.8 243.5 385 244C386.2 244.6 387.9 247.3 388.9 250.3C390 253.3 390.9 260 391.3 261.9" fill="none" stroke="#000" stroke-width="1.35"/><path d="M350.5 261.9C350.7 260.8 350.8 256.6 351.3 255C351.8 253.5 352.9 252.5 353.7 252.7C354.5 252.8 355.5 254.3 356 255.8C356.5 257.3 356.7 260.9 356.8 261.9" fill="none" stroke="#000" stroke-width="1.35"/><path d="M354.5 153.1C355.2 154.4 356.4 161 357.6 165.7C358.8 170.4 361.2 179.3 361.5 181.3C361.8 183.4 360.2 180.3 359.2 178.2C358.1 176.1 356.3 172.2 355.2 168.8C354.2 165.4 353 160.4 352.9 157.8C352.8 155.2 353.7 151.8 354.5 153.1Z" fill="none" stroke="#000" stroke-width="1.35" stroke-dasharray="4 2.2"/><path d="M353.7 182.9C354.6 182.9 356.8 191.5 357.6 197C358.4 202.5 358.8 210.6 358.4 215.8C358 221.1 356.3 228.4 355.2 228.4C354.2 228.4 352.7 221.1 352.1 215.8C351.5 210.6 351.5 202.5 351.8 197C352.1 191.5 352.7 182.9 353.7 182.9Z" fill="none" stroke="#000" stroke-width="1.35" stroke-dasharray="4 2.2"/><path d="M345.8 164.1C346.3 164.1 347.3 173.2 347.4 181.3C347.5 189.4 347.4 203.3 346.6 212.7C345.8 222.1 343 237.8 342.7 237.8C342.4 237.8 344.7 222.1 345.1 212.7C345.4 203.3 344.5 189.4 344.6 181.3C344.7 173.2 345.4 164.1 345.8 164.1Z" fill="none" stroke="#000" stroke-width="0.7" stroke-dasharray="3 2"/><path d="M391.3 204.9C392.3 204.3 394.7 207.2 395.2 209.6C395.7 211.9 395.1 217.1 394.4 219C393.8 220.8 392.2 221.6 391.3 220.5C390.4 219.5 388.9 215.3 388.9 212.7C388.9 210.1 390.2 205.4 391.3 204.9Z" fill="none" stroke="#000" stroke-width="1.35" stroke-dasharray="4 2.2"/><path d="M354.8 152.7C355.1 153.9 356.5 156 356.6 159.9C356.8 163.8 355.9 173.4 355.7 176.1" fill="none" stroke="#000" stroke-width="1.35" stroke-dasharray="4 2.2"/><path d="M320.3 176.1C320.6 174.6 321.2 167.2 322.1 167.2C323 167.2 325.1 174.6 325.8 176.1" fill="none" stroke="#000" stroke-width="0.7" stroke-dasharray="3 2"/><path d="M260 193.6C259.4 195.7 257.3 201.2 256.6 206.3C255.8 211.5 255.4 218.4 255.7 224.5C256 230.6 257.9 239.6 258.4 242.7" fill="none" stroke="#000" stroke-width="0.7" stroke-dasharray="3 2"/><text x="92.2" y="142.7" font-size="10.5" text-anchor="middle" transform="rotate(-88 92.2 139)" style="paint-order:stroke;stroke:#16fa0f;stroke-width:3.6px;stroke-linejoin:round">0.00</text><text x="92.2" y="142.7" font-size="10.5" text-anchor="middle" transform="rotate(-88 92.2 139)" style="stroke:#000;stroke-width:.15px">0.00</text><text x="254.4" y="140.4" font-size="10.5" text-anchor="middle" transform="rotate(-76 254.4 136.7)" style="paint-order:stroke;stroke:#16fa0f;stroke-width:3.6px;stroke-linejoin:round">0.00</text><text x="254.4" y="140.4" font-size="10.5" text-anchor="middle" transform="rotate(-76 254.4 136.7)" style="stroke:#000;stroke-width:.15px">0.00</text><text x="122.1" y="197.3" font-size="10.5" text-anchor="middle" transform="rotate(-80 122.1 193.6)" style="paint-order:stroke;stroke:#aafb00;stroke-width:3.6px;stroke-linejoin:round">10.0</text><text x="122.1" y="197.3" font-size="10.5" text-anchor="middle" transform="rotate(-80 122.1 193.6)" style="stroke:#000;stroke-width:.15px">10.0</text><text x="224.8" y="227.3" font-size="10.5" text-anchor="middle" transform="rotate(-68 224.8 223.6)" style="paint-order:stroke;stroke:#aafb00;stroke-width:3.6px;stroke-linejoin:round">10.0</text><text x="224.8" y="227.3" font-size="10.5" text-anchor="middle" transform="rotate(-68 224.8 223.6)" style="stroke:#000;stroke-width:.15px">10.0</text><text x="274.9" y="194.6" font-size="10.5" text-anchor="middle" transform="rotate(-72 274.9 190.9)" style="paint-order:stroke;stroke:#00f8be;stroke-width:3.6px;stroke-linejoin:round">10.0</text><text x="274.9" y="194.6" font-size="10.5" text-anchor="middle" transform="rotate(-72 274.9 190.9)" style="stroke:#000;stroke-width:.15px">10.0</text><text x="400.7" y="222.7" font-size="10.5" text-anchor="middle" transform="rotate(-80 400.7 219)" style="paint-order:stroke;stroke:#46fa05;stroke-width:3.6px;stroke-linejoin:round">0.00</text><text x="400.7" y="222.7" font-size="10.5" text-anchor="middle" transform="rotate(-80 400.7 219)" style="stroke:#000;stroke-width:.15px">0.00</text>
</g>
<rect x="77.5" y="82.4" width="357.5" height="179.5" fill="none" stroke="#222" stroke-width="1.7"/>
<path d="M90.2 82.4v2.6M90.2 261.9v-2.6M104.6 82.4v5M104.6 261.9v-5M119 82.4v2.6M119 261.9v-2.6M133.4 82.4v5M133.4 261.9v-5M147.8 82.4v2.6M147.8 261.9v-2.6M162.2 82.4v5M162.2 261.9v-5M176.6 82.4v2.6M176.6 261.9v-2.6M191 82.4v5M191 261.9v-5M205.4 82.4v2.6M205.4 261.9v-2.6M219.8 82.4v5M219.8 261.9v-5M234.2 82.4v2.6M234.2 261.9v-2.6M248.6 82.4v5M248.6 261.9v-5M263 82.4v2.6M263 261.9v-2.6M277.4 82.4v5M277.4 261.9v-5M291.8 82.4v2.6M291.8 261.9v-2.6M306.2 82.4v5M306.2 261.9v-5M320.6 82.4v2.6M320.6 261.9v-2.6M335 82.4v5M335 261.9v-5M349.4 82.4v2.6M349.4 261.9v-2.6M363.8 82.4v5M363.8 261.9v-5M378.2 82.4v2.6M378.2 261.9v-2.6M392.6 82.4v5M392.6 261.9v-5M407 82.4v2.6M407 261.9v-2.6M421.4 82.4v5M421.4 261.9v-5M77.5 252.9h2.6M435 252.9h-2.6M77.5 243.9h2.6M435 243.9h-2.6M77.5 235h2.6M435 235h-2.6M77.5 226h2.6M435 226h-2.6M77.5 217h5M435 217h-5M77.5 208h2.6M435 208h-2.6M77.5 199.1h2.6M435 199.1h-2.6M77.5 190.1h2.6M435 190.1h-2.6M77.5 181.1h2.6M435 181.1h-2.6M77.5 172.1h5M435 172.1h-5M77.5 163.2h2.6M435 163.2h-2.6M77.5 154.2h2.6M435 154.2h-2.6M77.5 145.2h2.6M435 145.2h-2.6M77.5 136.2h2.6M435 136.2h-2.6M77.5 127.3h5M435 127.3h-5M77.5 118.3h2.6M435 118.3h-2.6M77.5 109.3h2.6M435 109.3h-2.6M77.5 100.3h2.6M435 100.3h-2.6M77.5 91.4h2.6M435 91.4h-2.6" stroke="#000" stroke-width="1.1" fill="none"/>
<text x="256" y="58.2" font-size="17" text-anchor="middle" textLength="125" fill="#111" class="th">vertical velocity</text>
<text x="71.2" y="220.6" font-size="10" text-anchor="end" class="tk">5</text>
<text x="71.2" y="175.7" font-size="10" text-anchor="end" class="tk">10</text>
<text x="71.2" y="130.9" font-size="10" text-anchor="end" class="tk">15</text>
<text x="105.2" y="274.6" font-size="10" text-anchor="middle" class="tk">4</text>
<text x="134" y="274.6" font-size="10" text-anchor="middle" class="tk">8</text>
<text x="162.8" y="274.6" font-size="10" text-anchor="middle" class="tk">12</text>
<text x="191.6" y="274.6" font-size="10" text-anchor="middle" class="tk">16</text>
<text x="220.4" y="274.6" font-size="10" text-anchor="middle" class="tk">20</text>
<text x="249.2" y="274.6" font-size="10" text-anchor="middle" class="tk">24</text>
<text x="278" y="274.6" font-size="10" text-anchor="middle" class="tk">28</text>
<text x="306.8" y="274.6" font-size="10" text-anchor="middle" class="tk">32</text>
<text x="335.6" y="274.6" font-size="10" text-anchor="middle" class="tk">36</text>
<text x="364.4" y="274.6" font-size="10" text-anchor="middle" class="tk">40</text>
<text x="393.2" y="274.6" font-size="10" text-anchor="middle" class="tk">44</text>
<text x="422" y="274.6" font-size="10" text-anchor="middle" class="tk">48</text>
<text x="27" y="280.9" font-size="10" textLength="54.5" class="tk">(×1000 m)</text>
<text x="388.2" y="287.2" font-size="10" textLength="54.5" class="tk">(×1000 m)</text>
<text x="213" y="303.8" font-size="14" textLength="87" fill="#111" class="th">X−coordinate</text>
<g transform="translate(52.2,172.5) rotate(-90)">
<text x="0" y="0" font-size="14" text-anchor="middle" textLength="87" fill="#111" class="th">Z−coordinate</text>
</g>
<text x="172.5" y="330" font-size="11" textLength="45.5" class="tk" lengthAdjust="spacingAndGlyphs">CONTOUR</text>
<text x="223.3" y="330" font-size="11" textLength="43" class="tk" lengthAdjust="spacingAndGlyphs">INTERVAL</text>
<text x="272.5" y="330" font-size="11" textLength="6.2" class="tk" lengthAdjust="spacingAndGlyphs">=</text>
<text x="286.3" y="330" font-size="11" textLength="53" class="tk" lengthAdjust="spacingAndGlyphs">5.000E+00</text>
<text x="359.5" y="344.6" font-size="10" textLength="54.7" fill="#606060">t=723000 s</text>
<rect x="178.2" y="338.6" width="155" height="10.6" fill="url(#cbar)"/>
<rect x="178.2" y="338.6" width="155" height="10.6" fill="url(#cstripe)"/>
<rect x="178.4" y="338.7" width="154.8" height="10.5" fill="none" stroke="#000" stroke-width="1.5"/>
<text x="194" y="360.2" font-size="10" text-anchor="middle" class="tk">−32</text>
<text x="225" y="360.2" font-size="10" text-anchor="middle" class="tk">−16</text>
<text x="256" y="360.2" font-size="10" text-anchor="middle" class="tk">0</text>
<text x="286.5" y="360.2" font-size="10" text-anchor="middle" class="tk">16</text>
<text x="318" y="360.2" font-size="10" text-anchor="middle" class="tk">32</text>
<text x="14.2" y="369" font-size="5.4" textLength="45" fill="#222">/usr/bin/gpview</text>
<text x="65.5" y="369" font-size="5.4" textLength="35" fill="#222">2008−12−21</text>
<text x="482.2" y="369" font-size="5.4" text-anchor="end" textLength="154" fill="#222">MarsCond_VelZ.nc@VelZ,x=0:50000,z=0:20000,t=723000</text>
</g>
</svg></body></html>
